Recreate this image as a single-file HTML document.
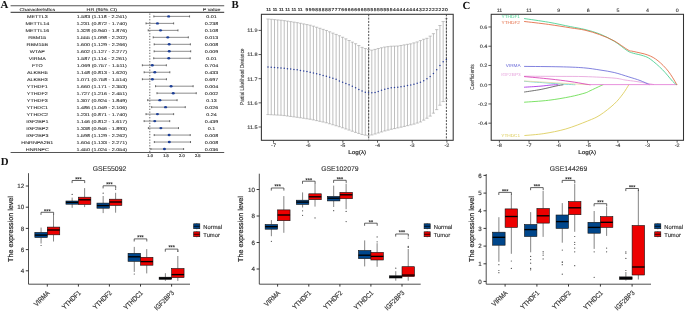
<!DOCTYPE html>
<html><head><meta charset="utf-8"><style>
html,body{margin:0;padding:0;background:#fff;width:685px;height:312px;overflow:hidden}
svg{display:block;will-change:transform}
text{font-family:"Liberation Sans", sans-serif;text-rendering:geometricPrecision}
.b{stroke:#333;stroke-width:0.22}
</style></head><body>
<svg width="685" height="312" viewBox="0 0 685 312">
<rect width="685" height="312" fill="#fff"/>
<text x="0.6" y="8.3" font-size="10.8" style='font-family:"Liberation Serif", serif' font-weight="bold" fill="#111">A</text>
<text x="231.4" y="8.3" font-size="10.8" style='font-family:"Liberation Serif", serif' font-weight="bold" fill="#111">B</text>
<text x="462.6" y="8.6" font-size="10.8" style='font-family:"Liberation Serif", serif' font-weight="bold" fill="#111">C</text>
<text x="0.8" y="164.8" font-size="10.8" style='font-family:"Liberation Serif", serif' font-weight="bold" fill="#111">D</text>
<line x1="10.6" y1="5.8" x2="224.2" y2="5.8" stroke="#555" stroke-width="1.1" />
<line x1="10.6" y1="12.4" x2="224.2" y2="12.4" stroke="#555" stroke-width="1.1" />
<line x1="10.6" y1="152.5" x2="224.2" y2="152.5" stroke="#555" stroke-width="1.1" />
<text x="0" y="0" transform="translate(37.3,11.1) scale(1.08,0.82)" font-size="5" text-anchor="middle" fill="#222" stroke="#222" stroke-width="0.08" font-weight="normal" >Characteristics</text>
<text x="0" y="0" transform="translate(101.8,11.1) scale(1.08,0.82)" font-size="5" text-anchor="middle" fill="#222" stroke="#222" stroke-width="0.08" font-weight="normal" >HR (95% CI)</text>
<text x="0" y="0" transform="translate(211.6,11.1) scale(1.08,0.82)" font-size="5" text-anchor="middle" fill="#222" stroke="#222" stroke-width="0.08" font-weight="normal" >P value</text>
<line x1="149.8" y1="13.5" x2="149.8" y2="152.5" stroke="#444" stroke-width="0.8" stroke-dasharray="1.3,1.5"/>
<text x="0" y="0" transform="translate(37.3,18) scale(1.08,0.82)" font-size="5" text-anchor="middle" fill="#222" stroke="#222" stroke-width="0.08" font-weight="normal" >METTL3</text>
<text x="0" y="0" transform="translate(101.8,18) scale(1.08,0.82)" font-size="5" text-anchor="middle" fill="#222" stroke="#222" stroke-width="0.08" font-weight="normal" >1.583 (1.118 - 2.241)</text>
<text x="0" y="0" transform="translate(211.6,18) scale(1.08,0.82)" font-size="5" text-anchor="middle" fill="#222" stroke="#222" stroke-width="0.08" font-weight="normal" >0.01</text>
<line x1="153.85" y1="16.4" x2="189.56" y2="16.4" stroke="#808080" stroke-width="0.9" />
<line x1="153.85" y1="15.4" x2="153.85" y2="17.4" stroke="#333" stroke-width="0.7" />
<line x1="189.56" y1="15.4" x2="189.56" y2="17.4" stroke="#333" stroke-width="0.7" />
<ellipse cx="168.64" cy="16.4" rx="1.5" ry="1.2" fill="#1d3f96"/>
<text x="0" y="0" transform="translate(37.3,24.98) scale(1.08,0.82)" font-size="5" text-anchor="middle" fill="#222" stroke="#222" stroke-width="0.08" font-weight="normal" >METTL14</text>
<text x="0" y="0" transform="translate(101.8,24.98) scale(1.08,0.82)" font-size="5" text-anchor="middle" fill="#222" stroke="#222" stroke-width="0.08" font-weight="normal" >1.231 (0.872 - 1.740)</text>
<text x="0" y="0" transform="translate(211.6,24.98) scale(1.08,0.82)" font-size="5" text-anchor="middle" fill="#222" stroke="#222" stroke-width="0.08" font-weight="normal" >0.238</text>
<line x1="146.03" y1="23.38" x2="173.63" y2="23.38" stroke="#808080" stroke-width="0.9" />
<line x1="146.03" y1="22.38" x2="146.03" y2="24.38" stroke="#333" stroke-width="0.7" />
<line x1="173.63" y1="22.38" x2="173.63" y2="24.38" stroke="#333" stroke-width="0.7" />
<ellipse cx="157.45" cy="23.38" rx="1.5" ry="1.2" fill="#1d3f96"/>
<text x="0" y="0" transform="translate(37.3,31.96) scale(1.08,0.82)" font-size="5" text-anchor="middle" fill="#222" stroke="#222" stroke-width="0.08" font-weight="normal" >METTL16</text>
<text x="0" y="0" transform="translate(101.8,31.96) scale(1.08,0.82)" font-size="5" text-anchor="middle" fill="#222" stroke="#222" stroke-width="0.08" font-weight="normal" >1.328 (0.940 - 1.876)</text>
<text x="0" y="0" transform="translate(211.6,31.96) scale(1.08,0.82)" font-size="5" text-anchor="middle" fill="#222" stroke="#222" stroke-width="0.08" font-weight="normal" >0.108</text>
<line x1="148.19" y1="30.36" x2="177.96" y2="30.36" stroke="#808080" stroke-width="0.9" />
<line x1="148.19" y1="29.36" x2="148.19" y2="31.36" stroke="#333" stroke-width="0.7" />
<line x1="177.96" y1="29.36" x2="177.96" y2="31.36" stroke="#333" stroke-width="0.7" />
<ellipse cx="160.53" cy="30.36" rx="1.5" ry="1.2" fill="#1d3f96"/>
<text x="0" y="0" transform="translate(37.3,38.94) scale(1.08,0.82)" font-size="5" text-anchor="middle" fill="#222" stroke="#222" stroke-width="0.08" font-weight="normal" >RBM15</text>
<text x="0" y="0" transform="translate(101.8,38.94) scale(1.08,0.82)" font-size="5" text-anchor="middle" fill="#222" stroke="#222" stroke-width="0.08" font-weight="normal" >1.555 (1.098 - 2.202)</text>
<text x="0" y="0" transform="translate(211.6,38.94) scale(1.08,0.82)" font-size="5" text-anchor="middle" fill="#222" stroke="#222" stroke-width="0.08" font-weight="normal" >0.013</text>
<line x1="153.22" y1="37.34" x2="188.32" y2="37.34" stroke="#808080" stroke-width="0.9" />
<line x1="153.22" y1="36.34" x2="153.22" y2="38.34" stroke="#333" stroke-width="0.7" />
<line x1="188.32" y1="36.34" x2="188.32" y2="38.34" stroke="#333" stroke-width="0.7" />
<ellipse cx="167.75" cy="37.34" rx="1.5" ry="1.2" fill="#1d3f96"/>
<text x="0" y="0" transform="translate(37.3,45.92) scale(1.08,0.82)" font-size="5" text-anchor="middle" fill="#222" stroke="#222" stroke-width="0.08" font-weight="normal" >RBM15B</text>
<text x="0" y="0" transform="translate(101.8,45.92) scale(1.08,0.82)" font-size="5" text-anchor="middle" fill="#222" stroke="#222" stroke-width="0.08" font-weight="normal" >1.600 (1.129 - 2.266)</text>
<text x="0" y="0" transform="translate(211.6,45.92) scale(1.08,0.82)" font-size="5" text-anchor="middle" fill="#222" stroke="#222" stroke-width="0.08" font-weight="normal" >0.008</text>
<line x1="154.2" y1="44.32" x2="190.36" y2="44.32" stroke="#808080" stroke-width="0.9" />
<line x1="154.2" y1="43.32" x2="154.2" y2="45.32" stroke="#333" stroke-width="0.7" />
<line x1="190.36" y1="43.32" x2="190.36" y2="45.32" stroke="#333" stroke-width="0.7" />
<ellipse cx="169.18" cy="44.32" rx="1.5" ry="1.2" fill="#1d3f96"/>
<text x="0" y="0" transform="translate(37.3,52.9) scale(1.08,0.82)" font-size="5" text-anchor="middle" fill="#222" stroke="#222" stroke-width="0.08" font-weight="normal" >WTAP</text>
<text x="0" y="0" transform="translate(101.8,52.9) scale(1.08,0.82)" font-size="5" text-anchor="middle" fill="#222" stroke="#222" stroke-width="0.08" font-weight="normal" >1.602 (1.127 - 2.277)</text>
<text x="0" y="0" transform="translate(211.6,52.9) scale(1.08,0.82)" font-size="5" text-anchor="middle" fill="#222" stroke="#222" stroke-width="0.08" font-weight="normal" >0.009</text>
<line x1="154.14" y1="51.3" x2="190.71" y2="51.3" stroke="#808080" stroke-width="0.9" />
<line x1="154.14" y1="50.3" x2="154.14" y2="52.3" stroke="#333" stroke-width="0.7" />
<line x1="190.71" y1="50.3" x2="190.71" y2="52.3" stroke="#333" stroke-width="0.7" />
<ellipse cx="169.24" cy="51.3" rx="1.5" ry="1.2" fill="#1d3f96"/>
<text x="0" y="0" transform="translate(37.3,59.88) scale(1.08,0.82)" font-size="5" text-anchor="middle" fill="#222" stroke="#222" stroke-width="0.08" font-weight="normal" >VIRMA</text>
<text x="0" y="0" transform="translate(101.8,59.88) scale(1.08,0.82)" font-size="5" text-anchor="middle" fill="#222" stroke="#222" stroke-width="0.08" font-weight="normal" >1.587 (1.114 - 2.261)</text>
<text x="0" y="0" transform="translate(211.6,59.88) scale(1.08,0.82)" font-size="5" text-anchor="middle" fill="#222" stroke="#222" stroke-width="0.08" font-weight="normal" >0.01</text>
<line x1="153.73" y1="58.28" x2="190.2" y2="58.28" stroke="#808080" stroke-width="0.9" />
<line x1="153.73" y1="57.28" x2="153.73" y2="59.28" stroke="#333" stroke-width="0.7" />
<line x1="190.2" y1="57.28" x2="190.2" y2="59.28" stroke="#333" stroke-width="0.7" />
<ellipse cx="168.77" cy="58.28" rx="1.5" ry="1.2" fill="#1d3f96"/>
<text x="0" y="0" transform="translate(37.3,66.86) scale(1.08,0.82)" font-size="5" text-anchor="middle" fill="#222" stroke="#222" stroke-width="0.08" font-weight="normal" >FTO</text>
<text x="0" y="0" transform="translate(101.8,66.86) scale(1.08,0.82)" font-size="5" text-anchor="middle" fill="#222" stroke="#222" stroke-width="0.08" font-weight="normal" >1.069 (0.757 - 1.511)</text>
<text x="0" y="0" transform="translate(211.6,66.86) scale(1.08,0.82)" font-size="5" text-anchor="middle" fill="#222" stroke="#222" stroke-width="0.08" font-weight="normal" >0.704</text>
<line x1="142.37" y1="65.26" x2="166.35" y2="65.26" stroke="#808080" stroke-width="0.9" />
<line x1="142.37" y1="64.26" x2="142.37" y2="66.26" stroke="#333" stroke-width="0.7" />
<line x1="166.35" y1="64.26" x2="166.35" y2="66.26" stroke="#333" stroke-width="0.7" />
<ellipse cx="152.29" cy="65.26" rx="1.5" ry="1.2" fill="#1d3f96"/>
<text x="0" y="0" transform="translate(37.3,73.84) scale(1.08,0.82)" font-size="5" text-anchor="middle" fill="#222" stroke="#222" stroke-width="0.08" font-weight="normal" >ALKBH5</text>
<text x="0" y="0" transform="translate(101.8,73.84) scale(1.08,0.82)" font-size="5" text-anchor="middle" fill="#222" stroke="#222" stroke-width="0.08" font-weight="normal" >1.148 (0.813 - 1.620)</text>
<text x="0" y="0" transform="translate(211.6,73.84) scale(1.08,0.82)" font-size="5" text-anchor="middle" fill="#222" stroke="#222" stroke-width="0.08" font-weight="normal" >0.433</text>
<line x1="144.15" y1="72.24" x2="169.82" y2="72.24" stroke="#808080" stroke-width="0.9" />
<line x1="144.15" y1="71.24" x2="144.15" y2="73.24" stroke="#333" stroke-width="0.7" />
<line x1="169.82" y1="71.24" x2="169.82" y2="73.24" stroke="#333" stroke-width="0.7" />
<ellipse cx="154.81" cy="72.24" rx="1.5" ry="1.2" fill="#1d3f96"/>
<text x="0" y="0" transform="translate(37.3,80.82) scale(1.08,0.82)" font-size="5" text-anchor="middle" fill="#222" stroke="#222" stroke-width="0.08" font-weight="normal" >ALKBH3</text>
<text x="0" y="0" transform="translate(101.8,80.82) scale(1.08,0.82)" font-size="5" text-anchor="middle" fill="#222" stroke="#222" stroke-width="0.08" font-weight="normal" >1.071 (0.758 - 1.514)</text>
<text x="0" y="0" transform="translate(211.6,80.82) scale(1.08,0.82)" font-size="5" text-anchor="middle" fill="#222" stroke="#222" stroke-width="0.08" font-weight="normal" >0.697</text>
<line x1="142.4" y1="79.22" x2="166.45" y2="79.22" stroke="#808080" stroke-width="0.9" />
<line x1="142.4" y1="78.22" x2="142.4" y2="80.22" stroke="#333" stroke-width="0.7" />
<line x1="166.45" y1="78.22" x2="166.45" y2="80.22" stroke="#333" stroke-width="0.7" />
<ellipse cx="152.36" cy="79.22" rx="1.5" ry="1.2" fill="#1d3f96"/>
<text x="0" y="0" transform="translate(37.3,87.8) scale(1.08,0.82)" font-size="5" text-anchor="middle" fill="#222" stroke="#222" stroke-width="0.08" font-weight="normal" >YTHDF1</text>
<text x="0" y="0" transform="translate(101.8,87.8) scale(1.08,0.82)" font-size="5" text-anchor="middle" fill="#222" stroke="#222" stroke-width="0.08" font-weight="normal" >1.660 (1.171 - 2.353)</text>
<text x="0" y="0" transform="translate(211.6,87.8) scale(1.08,0.82)" font-size="5" text-anchor="middle" fill="#222" stroke="#222" stroke-width="0.08" font-weight="normal" >0.004</text>
<line x1="155.54" y1="86.2" x2="193.13" y2="86.2" stroke="#808080" stroke-width="0.9" />
<line x1="155.54" y1="85.2" x2="155.54" y2="87.2" stroke="#333" stroke-width="0.7" />
<line x1="193.13" y1="85.2" x2="193.13" y2="87.2" stroke="#333" stroke-width="0.7" />
<ellipse cx="171.09" cy="86.2" rx="1.5" ry="1.2" fill="#1d3f96"/>
<text x="0" y="0" transform="translate(37.3,94.78) scale(1.08,0.82)" font-size="5" text-anchor="middle" fill="#222" stroke="#222" stroke-width="0.08" font-weight="normal" >YTHDF2</text>
<text x="0" y="0" transform="translate(101.8,94.78) scale(1.08,0.82)" font-size="5" text-anchor="middle" fill="#222" stroke="#222" stroke-width="0.08" font-weight="normal" >1.727 (1.216 - 2.451)</text>
<text x="0" y="0" transform="translate(211.6,94.78) scale(1.08,0.82)" font-size="5" text-anchor="middle" fill="#222" stroke="#222" stroke-width="0.08" font-weight="normal" >0.002</text>
<line x1="156.97" y1="93.18" x2="196.24" y2="93.18" stroke="#808080" stroke-width="0.9" />
<line x1="156.97" y1="92.18" x2="156.97" y2="94.18" stroke="#333" stroke-width="0.7" />
<line x1="196.24" y1="92.18" x2="196.24" y2="94.18" stroke="#333" stroke-width="0.7" />
<ellipse cx="173.22" cy="93.18" rx="1.5" ry="1.2" fill="#1d3f96"/>
<text x="0" y="0" transform="translate(37.3,101.76) scale(1.08,0.82)" font-size="5" text-anchor="middle" fill="#222" stroke="#222" stroke-width="0.08" font-weight="normal" >YTHDF3</text>
<text x="0" y="0" transform="translate(101.8,101.76) scale(1.08,0.82)" font-size="5" text-anchor="middle" fill="#222" stroke="#222" stroke-width="0.08" font-weight="normal" >1.307 (0.924 - 1.849)</text>
<text x="0" y="0" transform="translate(211.6,101.76) scale(1.08,0.82)" font-size="5" text-anchor="middle" fill="#222" stroke="#222" stroke-width="0.08" font-weight="normal" >0.13</text>
<line x1="147.68" y1="100.16" x2="177.1" y2="100.16" stroke="#808080" stroke-width="0.9" />
<line x1="147.68" y1="99.16" x2="147.68" y2="101.16" stroke="#333" stroke-width="0.7" />
<line x1="177.1" y1="99.16" x2="177.1" y2="101.16" stroke="#333" stroke-width="0.7" />
<ellipse cx="159.86" cy="100.16" rx="1.5" ry="1.2" fill="#1d3f96"/>
<text x="0" y="0" transform="translate(37.3,108.74) scale(1.08,0.82)" font-size="5" text-anchor="middle" fill="#222" stroke="#222" stroke-width="0.08" font-weight="normal" >YTHDC1</text>
<text x="0" y="0" transform="translate(101.8,108.74) scale(1.08,0.82)" font-size="5" text-anchor="middle" fill="#222" stroke="#222" stroke-width="0.08" font-weight="normal" >1.486 (1.049 - 2.106)</text>
<text x="0" y="0" transform="translate(211.6,108.74) scale(1.08,0.82)" font-size="5" text-anchor="middle" fill="#222" stroke="#222" stroke-width="0.08" font-weight="normal" >0.026</text>
<line x1="151.66" y1="107.14" x2="185.27" y2="107.14" stroke="#808080" stroke-width="0.9" />
<line x1="151.66" y1="106.14" x2="151.66" y2="108.14" stroke="#333" stroke-width="0.7" />
<line x1="185.27" y1="106.14" x2="185.27" y2="108.14" stroke="#333" stroke-width="0.7" />
<ellipse cx="165.55" cy="107.14" rx="1.5" ry="1.2" fill="#1d3f96"/>
<text x="0" y="0" transform="translate(37.3,115.72) scale(1.08,0.82)" font-size="5" text-anchor="middle" fill="#222" stroke="#222" stroke-width="0.08" font-weight="normal" >YTHDC2</text>
<text x="0" y="0" transform="translate(101.8,115.72) scale(1.08,0.82)" font-size="5" text-anchor="middle" fill="#222" stroke="#222" stroke-width="0.08" font-weight="normal" >1.231 (0.871 - 1.740)</text>
<text x="0" y="0" transform="translate(211.6,115.72) scale(1.08,0.82)" font-size="5" text-anchor="middle" fill="#222" stroke="#222" stroke-width="0.08" font-weight="normal" >0.24</text>
<line x1="146" y1="114.12" x2="173.63" y2="114.12" stroke="#808080" stroke-width="0.9" />
<line x1="146" y1="113.12" x2="146" y2="115.12" stroke="#333" stroke-width="0.7" />
<line x1="173.63" y1="113.12" x2="173.63" y2="115.12" stroke="#333" stroke-width="0.7" />
<ellipse cx="157.45" cy="114.12" rx="1.5" ry="1.2" fill="#1d3f96"/>
<text x="0" y="0" transform="translate(37.3,122.7) scale(1.08,0.82)" font-size="5" text-anchor="middle" fill="#222" stroke="#222" stroke-width="0.08" font-weight="normal" >IGF2BP1</text>
<text x="0" y="0" transform="translate(101.8,122.7) scale(1.08,0.82)" font-size="5" text-anchor="middle" fill="#222" stroke="#222" stroke-width="0.08" font-weight="normal" >1.146 (0.812 - 1.617)</text>
<text x="0" y="0" transform="translate(211.6,122.7) scale(1.08,0.82)" font-size="5" text-anchor="middle" fill="#222" stroke="#222" stroke-width="0.08" font-weight="normal" >0.439</text>
<line x1="144.12" y1="121.1" x2="169.72" y2="121.1" stroke="#808080" stroke-width="0.9" />
<line x1="144.12" y1="120.1" x2="144.12" y2="122.1" stroke="#333" stroke-width="0.7" />
<line x1="169.72" y1="120.1" x2="169.72" y2="122.1" stroke="#333" stroke-width="0.7" />
<ellipse cx="154.74" cy="121.1" rx="1.5" ry="1.2" fill="#1d3f96"/>
<text x="0" y="0" transform="translate(37.3,129.68) scale(1.08,0.82)" font-size="5" text-anchor="middle" fill="#222" stroke="#222" stroke-width="0.08" font-weight="normal" >IGF2BP2</text>
<text x="0" y="0" transform="translate(101.8,129.68) scale(1.08,0.82)" font-size="5" text-anchor="middle" fill="#222" stroke="#222" stroke-width="0.08" font-weight="normal" >1.338 (0.946 - 1.893)</text>
<text x="0" y="0" transform="translate(211.6,129.68) scale(1.08,0.82)" font-size="5" text-anchor="middle" fill="#222" stroke="#222" stroke-width="0.08" font-weight="normal" >0.1</text>
<line x1="148.38" y1="128.08" x2="178.5" y2="128.08" stroke="#808080" stroke-width="0.9" />
<line x1="148.38" y1="127.08" x2="148.38" y2="129.08" stroke="#333" stroke-width="0.7" />
<line x1="178.5" y1="127.08" x2="178.5" y2="129.08" stroke="#333" stroke-width="0.7" />
<ellipse cx="160.85" cy="128.08" rx="1.5" ry="1.2" fill="#1d3f96"/>
<text x="0" y="0" transform="translate(37.3,136.66) scale(1.08,0.82)" font-size="5" text-anchor="middle" fill="#222" stroke="#222" stroke-width="0.08" font-weight="normal" >IGF2BP3</text>
<text x="0" y="0" transform="translate(101.8,136.66) scale(1.08,0.82)" font-size="5" text-anchor="middle" fill="#222" stroke="#222" stroke-width="0.08" font-weight="normal" >1.598 (1.129 - 2.262)</text>
<text x="0" y="0" transform="translate(211.6,136.66) scale(1.08,0.82)" font-size="5" text-anchor="middle" fill="#222" stroke="#222" stroke-width="0.08" font-weight="normal" >0.008</text>
<line x1="154.2" y1="135.06" x2="190.23" y2="135.06" stroke="#808080" stroke-width="0.9" />
<line x1="154.2" y1="134.06" x2="154.2" y2="136.06" stroke="#333" stroke-width="0.7" />
<line x1="190.23" y1="134.06" x2="190.23" y2="136.06" stroke="#333" stroke-width="0.7" />
<ellipse cx="169.12" cy="135.06" rx="1.5" ry="1.2" fill="#1d3f96"/>
<text x="0" y="0" transform="translate(37.3,143.64) scale(1.08,0.82)" font-size="5" text-anchor="middle" fill="#222" stroke="#222" stroke-width="0.08" font-weight="normal" >HNRNPA2B1</text>
<text x="0" y="0" transform="translate(101.8,143.64) scale(1.08,0.82)" font-size="5" text-anchor="middle" fill="#222" stroke="#222" stroke-width="0.08" font-weight="normal" >1.604 (1.133 - 2.271)</text>
<text x="0" y="0" transform="translate(211.6,143.64) scale(1.08,0.82)" font-size="5" text-anchor="middle" fill="#222" stroke="#222" stroke-width="0.08" font-weight="normal" >0.008</text>
<line x1="154.33" y1="142.04" x2="190.52" y2="142.04" stroke="#808080" stroke-width="0.9" />
<line x1="154.33" y1="141.04" x2="154.33" y2="143.04" stroke="#333" stroke-width="0.7" />
<line x1="190.52" y1="141.04" x2="190.52" y2="143.04" stroke="#333" stroke-width="0.7" />
<ellipse cx="169.31" cy="142.04" rx="1.5" ry="1.2" fill="#1d3f96"/>
<text x="0" y="0" transform="translate(37.3,150.62) scale(1.08,0.82)" font-size="5" text-anchor="middle" fill="#222" stroke="#222" stroke-width="0.08" font-weight="normal" >HNRNPC</text>
<text x="0" y="0" transform="translate(101.8,150.62) scale(1.08,0.82)" font-size="5" text-anchor="middle" fill="#222" stroke="#222" stroke-width="0.08" font-weight="normal" >1.450 (1.024 - 2.054)</text>
<text x="0" y="0" transform="translate(211.6,150.62) scale(1.08,0.82)" font-size="5" text-anchor="middle" fill="#222" stroke="#222" stroke-width="0.08" font-weight="normal" >0.036</text>
<line x1="150.86" y1="149.02" x2="183.62" y2="149.02" stroke="#808080" stroke-width="0.9" />
<line x1="150.86" y1="148.02" x2="150.86" y2="150.02" stroke="#333" stroke-width="0.7" />
<line x1="183.62" y1="148.02" x2="183.62" y2="150.02" stroke="#333" stroke-width="0.7" />
<ellipse cx="164.41" cy="149.02" rx="1.5" ry="1.2" fill="#1d3f96"/>
<line x1="150.1" y1="152.5" x2="150.1" y2="153.6" stroke="#444" stroke-width="0.6" />
<text x="0" y="0" transform="translate(150.1,157)" font-size="4" text-anchor="middle" fill="#333" stroke="#333" stroke-width="0.2" font-weight="normal" >1.0</text>
<line x1="166" y1="152.5" x2="166" y2="153.6" stroke="#444" stroke-width="0.6" />
<text x="0" y="0" transform="translate(166,157)" font-size="4" text-anchor="middle" fill="#333" stroke="#333" stroke-width="0.2" font-weight="normal" >1.5</text>
<line x1="181.9" y1="152.5" x2="181.9" y2="153.6" stroke="#444" stroke-width="0.6" />
<text x="0" y="0" transform="translate(181.9,157)" font-size="4" text-anchor="middle" fill="#333" stroke="#333" stroke-width="0.2" font-weight="normal" >2.0</text>
<line x1="197.8" y1="152.5" x2="197.8" y2="153.6" stroke="#444" stroke-width="0.6" />
<text x="0" y="0" transform="translate(197.8,157)" font-size="4" text-anchor="middle" fill="#333" stroke="#333" stroke-width="0.2" font-weight="normal" >2.5</text>
<line x1="268" y1="19" x2="268" y2="114.6" stroke="#949494" stroke-width="0.6" />
<line x1="266.4" y1="19" x2="269.6" y2="19" stroke="#a0a0a0" stroke-width="0.6" />
<line x1="266.4" y1="114.6" x2="269.6" y2="114.6" stroke="#a0a0a0" stroke-width="0.6" />
<line x1="271.24" y1="19.3" x2="271.24" y2="114.76" stroke="#949494" stroke-width="0.6" />
<line x1="269.64" y1="19.3" x2="272.84" y2="19.3" stroke="#a0a0a0" stroke-width="0.6" />
<line x1="269.64" y1="114.76" x2="272.84" y2="114.76" stroke="#a0a0a0" stroke-width="0.6" />
<line x1="274.49" y1="19.61" x2="274.49" y2="114.93" stroke="#949494" stroke-width="0.6" />
<line x1="272.89" y1="19.61" x2="276.09" y2="19.61" stroke="#a0a0a0" stroke-width="0.6" />
<line x1="272.89" y1="114.93" x2="276.09" y2="114.93" stroke="#a0a0a0" stroke-width="0.6" />
<line x1="277.73" y1="19.91" x2="277.73" y2="115.09" stroke="#949494" stroke-width="0.6" />
<line x1="276.13" y1="19.91" x2="279.33" y2="19.91" stroke="#a0a0a0" stroke-width="0.6" />
<line x1="276.13" y1="115.09" x2="279.33" y2="115.09" stroke="#a0a0a0" stroke-width="0.6" />
<line x1="280.97" y1="20.21" x2="280.97" y2="115.25" stroke="#949494" stroke-width="0.6" />
<line x1="279.37" y1="20.21" x2="282.57" y2="20.21" stroke="#a0a0a0" stroke-width="0.6" />
<line x1="279.37" y1="115.25" x2="282.57" y2="115.25" stroke="#a0a0a0" stroke-width="0.6" />
<line x1="284.22" y1="20.65" x2="284.22" y2="115.6" stroke="#949494" stroke-width="0.6" />
<line x1="282.62" y1="20.65" x2="285.82" y2="20.65" stroke="#a0a0a0" stroke-width="0.6" />
<line x1="282.62" y1="115.6" x2="285.82" y2="115.6" stroke="#a0a0a0" stroke-width="0.6" />
<line x1="287.46" y1="21.14" x2="287.46" y2="116.02" stroke="#949494" stroke-width="0.6" />
<line x1="285.86" y1="21.14" x2="289.06" y2="21.14" stroke="#a0a0a0" stroke-width="0.6" />
<line x1="285.86" y1="116.02" x2="289.06" y2="116.02" stroke="#a0a0a0" stroke-width="0.6" />
<line x1="290.71" y1="21.63" x2="290.71" y2="116.45" stroke="#949494" stroke-width="0.6" />
<line x1="289.11" y1="21.63" x2="292.31" y2="21.63" stroke="#a0a0a0" stroke-width="0.6" />
<line x1="289.11" y1="116.45" x2="292.31" y2="116.45" stroke="#a0a0a0" stroke-width="0.6" />
<line x1="293.95" y1="22.12" x2="293.95" y2="116.87" stroke="#949494" stroke-width="0.6" />
<line x1="292.35" y1="22.12" x2="295.55" y2="22.12" stroke="#a0a0a0" stroke-width="0.6" />
<line x1="292.35" y1="116.87" x2="295.55" y2="116.87" stroke="#a0a0a0" stroke-width="0.6" />
<line x1="297.19" y1="22.64" x2="297.19" y2="117.3" stroke="#949494" stroke-width="0.6" />
<line x1="295.59" y1="22.64" x2="298.79" y2="22.64" stroke="#a0a0a0" stroke-width="0.6" />
<line x1="295.59" y1="117.3" x2="298.79" y2="117.3" stroke="#a0a0a0" stroke-width="0.6" />
<line x1="300.44" y1="23.28" x2="300.44" y2="117.79" stroke="#949494" stroke-width="0.6" />
<line x1="298.84" y1="23.28" x2="302.04" y2="23.28" stroke="#a0a0a0" stroke-width="0.6" />
<line x1="298.84" y1="117.79" x2="302.04" y2="117.79" stroke="#a0a0a0" stroke-width="0.6" />
<line x1="303.68" y1="23.93" x2="303.68" y2="118.28" stroke="#949494" stroke-width="0.6" />
<line x1="302.08" y1="23.93" x2="305.28" y2="23.93" stroke="#a0a0a0" stroke-width="0.6" />
<line x1="302.08" y1="118.28" x2="305.28" y2="118.28" stroke="#a0a0a0" stroke-width="0.6" />
<line x1="306.92" y1="24.57" x2="306.92" y2="118.77" stroke="#949494" stroke-width="0.6" />
<line x1="305.32" y1="24.57" x2="308.52" y2="24.57" stroke="#a0a0a0" stroke-width="0.6" />
<line x1="305.32" y1="118.77" x2="308.52" y2="118.77" stroke="#a0a0a0" stroke-width="0.6" />
<line x1="310.17" y1="25.21" x2="310.17" y2="119.26" stroke="#949494" stroke-width="0.6" />
<line x1="308.57" y1="25.21" x2="311.77" y2="25.21" stroke="#a0a0a0" stroke-width="0.6" />
<line x1="308.57" y1="119.26" x2="311.77" y2="119.26" stroke="#a0a0a0" stroke-width="0.6" />
<line x1="313.41" y1="26.16" x2="313.41" y2="119.91" stroke="#949494" stroke-width="0.6" />
<line x1="311.81" y1="26.16" x2="315.01" y2="26.16" stroke="#a0a0a0" stroke-width="0.6" />
<line x1="311.81" y1="119.91" x2="315.01" y2="119.91" stroke="#a0a0a0" stroke-width="0.6" />
<line x1="316.65" y1="27.23" x2="316.65" y2="120.62" stroke="#949494" stroke-width="0.6" />
<line x1="315.05" y1="27.23" x2="318.25" y2="27.23" stroke="#a0a0a0" stroke-width="0.6" />
<line x1="315.05" y1="120.62" x2="318.25" y2="120.62" stroke="#a0a0a0" stroke-width="0.6" />
<line x1="319.9" y1="28.29" x2="319.9" y2="121.33" stroke="#949494" stroke-width="0.6" />
<line x1="318.3" y1="28.29" x2="321.5" y2="28.29" stroke="#a0a0a0" stroke-width="0.6" />
<line x1="318.3" y1="121.33" x2="321.5" y2="121.33" stroke="#a0a0a0" stroke-width="0.6" />
<line x1="323.14" y1="29.36" x2="323.14" y2="122.04" stroke="#949494" stroke-width="0.6" />
<line x1="321.54" y1="29.36" x2="324.74" y2="29.36" stroke="#a0a0a0" stroke-width="0.6" />
<line x1="321.54" y1="122.04" x2="324.74" y2="122.04" stroke="#a0a0a0" stroke-width="0.6" />
<line x1="326.39" y1="30.48" x2="326.39" y2="122.81" stroke="#949494" stroke-width="0.6" />
<line x1="324.79" y1="30.48" x2="327.99" y2="30.48" stroke="#a0a0a0" stroke-width="0.6" />
<line x1="324.79" y1="122.81" x2="327.99" y2="122.81" stroke="#a0a0a0" stroke-width="0.6" />
<line x1="329.63" y1="31.79" x2="329.63" y2="123.78" stroke="#949494" stroke-width="0.6" />
<line x1="328.03" y1="31.79" x2="331.23" y2="31.79" stroke="#a0a0a0" stroke-width="0.6" />
<line x1="328.03" y1="123.78" x2="331.23" y2="123.78" stroke="#a0a0a0" stroke-width="0.6" />
<line x1="332.87" y1="33.1" x2="332.87" y2="124.76" stroke="#949494" stroke-width="0.6" />
<line x1="331.27" y1="33.1" x2="334.47" y2="33.1" stroke="#a0a0a0" stroke-width="0.6" />
<line x1="331.27" y1="124.76" x2="334.47" y2="124.76" stroke="#a0a0a0" stroke-width="0.6" />
<line x1="336.12" y1="34.41" x2="336.12" y2="125.74" stroke="#949494" stroke-width="0.6" />
<line x1="334.52" y1="34.41" x2="337.72" y2="34.41" stroke="#a0a0a0" stroke-width="0.6" />
<line x1="334.52" y1="125.74" x2="337.72" y2="125.74" stroke="#a0a0a0" stroke-width="0.6" />
<line x1="339.36" y1="35.72" x2="339.36" y2="126.72" stroke="#949494" stroke-width="0.6" />
<line x1="337.76" y1="35.72" x2="340.96" y2="35.72" stroke="#a0a0a0" stroke-width="0.6" />
<line x1="337.76" y1="126.72" x2="340.96" y2="126.72" stroke="#a0a0a0" stroke-width="0.6" />
<line x1="342.6" y1="37.25" x2="342.6" y2="127.81" stroke="#949494" stroke-width="0.6" />
<line x1="341" y1="37.25" x2="344.2" y2="37.25" stroke="#a0a0a0" stroke-width="0.6" />
<line x1="341" y1="127.81" x2="344.2" y2="127.81" stroke="#a0a0a0" stroke-width="0.6" />
<line x1="345.85" y1="38.87" x2="345.85" y2="128.95" stroke="#949494" stroke-width="0.6" />
<line x1="344.25" y1="38.87" x2="347.45" y2="38.87" stroke="#a0a0a0" stroke-width="0.6" />
<line x1="344.25" y1="128.95" x2="347.45" y2="128.95" stroke="#a0a0a0" stroke-width="0.6" />
<line x1="349.09" y1="40.5" x2="349.09" y2="130.08" stroke="#949494" stroke-width="0.6" />
<line x1="347.49" y1="40.5" x2="350.69" y2="40.5" stroke="#a0a0a0" stroke-width="0.6" />
<line x1="347.49" y1="130.08" x2="350.69" y2="130.08" stroke="#a0a0a0" stroke-width="0.6" />
<line x1="352.33" y1="42.12" x2="352.33" y2="131.22" stroke="#949494" stroke-width="0.6" />
<line x1="350.73" y1="42.12" x2="353.93" y2="42.12" stroke="#a0a0a0" stroke-width="0.6" />
<line x1="350.73" y1="131.22" x2="353.93" y2="131.22" stroke="#a0a0a0" stroke-width="0.6" />
<line x1="355.58" y1="43.74" x2="355.58" y2="132.36" stroke="#949494" stroke-width="0.6" />
<line x1="353.98" y1="43.74" x2="357.18" y2="43.74" stroke="#a0a0a0" stroke-width="0.6" />
<line x1="353.98" y1="132.36" x2="357.18" y2="132.36" stroke="#a0a0a0" stroke-width="0.6" />
<line x1="358.82" y1="45.55" x2="358.82" y2="133.44" stroke="#949494" stroke-width="0.6" />
<line x1="357.22" y1="45.55" x2="360.42" y2="45.55" stroke="#a0a0a0" stroke-width="0.6" />
<line x1="357.22" y1="133.44" x2="360.42" y2="133.44" stroke="#a0a0a0" stroke-width="0.6" />
<line x1="362.07" y1="47.37" x2="362.07" y2="134.52" stroke="#949494" stroke-width="0.6" />
<line x1="360.47" y1="47.37" x2="363.67" y2="47.37" stroke="#a0a0a0" stroke-width="0.6" />
<line x1="360.47" y1="134.52" x2="363.67" y2="134.52" stroke="#a0a0a0" stroke-width="0.6" />
<line x1="365.31" y1="48.5" x2="365.31" y2="135.15" stroke="#949494" stroke-width="0.6" />
<line x1="363.71" y1="48.5" x2="366.91" y2="48.5" stroke="#a0a0a0" stroke-width="0.6" />
<line x1="363.71" y1="135.15" x2="366.91" y2="135.15" stroke="#a0a0a0" stroke-width="0.6" />
<line x1="368.55" y1="49.58" x2="368.55" y2="135.74" stroke="#949494" stroke-width="0.6" />
<line x1="366.95" y1="49.58" x2="370.15" y2="49.58" stroke="#a0a0a0" stroke-width="0.6" />
<line x1="366.95" y1="135.74" x2="370.15" y2="135.74" stroke="#a0a0a0" stroke-width="0.6" />
<line x1="371.8" y1="50.15" x2="371.8" y2="134.95" stroke="#949494" stroke-width="0.6" />
<line x1="370.2" y1="50.15" x2="373.4" y2="50.15" stroke="#a0a0a0" stroke-width="0.6" />
<line x1="370.2" y1="134.95" x2="373.4" y2="134.95" stroke="#a0a0a0" stroke-width="0.6" />
<line x1="375.04" y1="49.41" x2="375.04" y2="134.01" stroke="#949494" stroke-width="0.6" />
<line x1="373.44" y1="49.41" x2="376.64" y2="49.41" stroke="#a0a0a0" stroke-width="0.6" />
<line x1="373.44" y1="134.01" x2="376.64" y2="134.01" stroke="#a0a0a0" stroke-width="0.6" />
<line x1="378.28" y1="48.53" x2="378.28" y2="132.98" stroke="#949494" stroke-width="0.6" />
<line x1="376.68" y1="48.53" x2="379.88" y2="48.53" stroke="#a0a0a0" stroke-width="0.6" />
<line x1="376.68" y1="132.98" x2="379.88" y2="132.98" stroke="#a0a0a0" stroke-width="0.6" />
<line x1="381.53" y1="47.78" x2="381.53" y2="131.95" stroke="#949494" stroke-width="0.6" />
<line x1="379.93" y1="47.78" x2="383.13" y2="47.78" stroke="#a0a0a0" stroke-width="0.6" />
<line x1="379.93" y1="131.95" x2="383.13" y2="131.95" stroke="#a0a0a0" stroke-width="0.6" />
<line x1="384.77" y1="47.03" x2="384.77" y2="130.95" stroke="#949494" stroke-width="0.6" />
<line x1="383.17" y1="47.03" x2="386.37" y2="47.03" stroke="#a0a0a0" stroke-width="0.6" />
<line x1="383.17" y1="130.95" x2="386.37" y2="130.95" stroke="#a0a0a0" stroke-width="0.6" />
<line x1="388.01" y1="46.62" x2="388.01" y2="130.11" stroke="#949494" stroke-width="0.6" />
<line x1="386.41" y1="46.62" x2="389.61" y2="46.62" stroke="#a0a0a0" stroke-width="0.6" />
<line x1="386.41" y1="130.11" x2="389.61" y2="130.11" stroke="#a0a0a0" stroke-width="0.6" />
<line x1="391.26" y1="46.23" x2="391.26" y2="129.26" stroke="#949494" stroke-width="0.6" />
<line x1="389.66" y1="46.23" x2="392.86" y2="46.23" stroke="#a0a0a0" stroke-width="0.6" />
<line x1="389.66" y1="129.26" x2="392.86" y2="129.26" stroke="#a0a0a0" stroke-width="0.6" />
<line x1="394.5" y1="46.11" x2="394.5" y2="128.58" stroke="#949494" stroke-width="0.6" />
<line x1="392.9" y1="46.11" x2="396.1" y2="46.11" stroke="#a0a0a0" stroke-width="0.6" />
<line x1="392.9" y1="128.58" x2="396.1" y2="128.58" stroke="#a0a0a0" stroke-width="0.6" />
<line x1="397.75" y1="46.01" x2="397.75" y2="127.92" stroke="#949494" stroke-width="0.6" />
<line x1="396.15" y1="46.01" x2="399.35" y2="46.01" stroke="#a0a0a0" stroke-width="0.6" />
<line x1="396.15" y1="127.92" x2="399.35" y2="127.92" stroke="#a0a0a0" stroke-width="0.6" />
<line x1="400.99" y1="45.47" x2="400.99" y2="127.19" stroke="#949494" stroke-width="0.6" />
<line x1="399.39" y1="45.47" x2="402.59" y2="45.47" stroke="#a0a0a0" stroke-width="0.6" />
<line x1="399.39" y1="127.19" x2="402.59" y2="127.19" stroke="#a0a0a0" stroke-width="0.6" />
<line x1="404.23" y1="44.87" x2="404.23" y2="126.43" stroke="#949494" stroke-width="0.6" />
<line x1="402.63" y1="44.87" x2="405.83" y2="44.87" stroke="#a0a0a0" stroke-width="0.6" />
<line x1="402.63" y1="126.43" x2="405.83" y2="126.43" stroke="#a0a0a0" stroke-width="0.6" />
<line x1="407.48" y1="44.34" x2="407.48" y2="125.67" stroke="#949494" stroke-width="0.6" />
<line x1="405.88" y1="44.34" x2="409.08" y2="44.34" stroke="#a0a0a0" stroke-width="0.6" />
<line x1="405.88" y1="125.67" x2="409.08" y2="125.67" stroke="#a0a0a0" stroke-width="0.6" />
<line x1="410.72" y1="43.83" x2="410.72" y2="124.9" stroke="#949494" stroke-width="0.6" />
<line x1="409.12" y1="43.83" x2="412.32" y2="43.83" stroke="#a0a0a0" stroke-width="0.6" />
<line x1="409.12" y1="124.9" x2="412.32" y2="124.9" stroke="#a0a0a0" stroke-width="0.6" />
<line x1="413.96" y1="42.89" x2="413.96" y2="124.13" stroke="#949494" stroke-width="0.6" />
<line x1="412.36" y1="42.89" x2="415.56" y2="42.89" stroke="#a0a0a0" stroke-width="0.6" />
<line x1="412.36" y1="124.13" x2="415.56" y2="124.13" stroke="#a0a0a0" stroke-width="0.6" />
<line x1="417.21" y1="41.93" x2="417.21" y2="123.06" stroke="#949494" stroke-width="0.6" />
<line x1="415.61" y1="41.93" x2="418.81" y2="41.93" stroke="#a0a0a0" stroke-width="0.6" />
<line x1="415.61" y1="123.06" x2="418.81" y2="123.06" stroke="#a0a0a0" stroke-width="0.6" />
<line x1="420.45" y1="40.6" x2="420.45" y2="121.98" stroke="#949494" stroke-width="0.6" />
<line x1="418.85" y1="40.6" x2="422.05" y2="40.6" stroke="#a0a0a0" stroke-width="0.6" />
<line x1="418.85" y1="121.98" x2="422.05" y2="121.98" stroke="#a0a0a0" stroke-width="0.6" />
<line x1="423.69" y1="39.27" x2="423.69" y2="120.14" stroke="#949494" stroke-width="0.6" />
<line x1="422.09" y1="39.27" x2="425.29" y2="39.27" stroke="#a0a0a0" stroke-width="0.6" />
<line x1="422.09" y1="120.14" x2="425.29" y2="120.14" stroke="#a0a0a0" stroke-width="0.6" />
<line x1="426.94" y1="38.32" x2="426.94" y2="118.24" stroke="#949494" stroke-width="0.6" />
<line x1="425.34" y1="38.32" x2="428.54" y2="38.32" stroke="#a0a0a0" stroke-width="0.6" />
<line x1="425.34" y1="118.24" x2="428.54" y2="118.24" stroke="#a0a0a0" stroke-width="0.6" />
<line x1="430.18" y1="36.11" x2="430.18" y2="116.11" stroke="#949494" stroke-width="0.6" />
<line x1="428.58" y1="36.11" x2="431.78" y2="36.11" stroke="#a0a0a0" stroke-width="0.6" />
<line x1="428.58" y1="116.11" x2="431.78" y2="116.11" stroke="#a0a0a0" stroke-width="0.6" />
<line x1="433.43" y1="33.66" x2="433.43" y2="113.17" stroke="#949494" stroke-width="0.6" />
<line x1="431.83" y1="33.66" x2="435.03" y2="33.66" stroke="#a0a0a0" stroke-width="0.6" />
<line x1="431.83" y1="113.17" x2="435.03" y2="113.17" stroke="#a0a0a0" stroke-width="0.6" />
<line x1="436.67" y1="29.66" x2="436.67" y2="109.64" stroke="#949494" stroke-width="0.6" />
<line x1="435.07" y1="29.66" x2="438.27" y2="29.66" stroke="#a0a0a0" stroke-width="0.6" />
<line x1="435.07" y1="109.64" x2="438.27" y2="109.64" stroke="#a0a0a0" stroke-width="0.6" />
<line x1="439.91" y1="25.51" x2="439.91" y2="105.22" stroke="#949494" stroke-width="0.6" />
<line x1="438.31" y1="25.51" x2="441.51" y2="25.51" stroke="#a0a0a0" stroke-width="0.6" />
<line x1="438.31" y1="105.22" x2="441.51" y2="105.22" stroke="#a0a0a0" stroke-width="0.6" />
<line x1="443.16" y1="21.55" x2="443.16" y2="101.55" stroke="#949494" stroke-width="0.6" />
<line x1="441.56" y1="21.55" x2="444.76" y2="21.55" stroke="#a0a0a0" stroke-width="0.6" />
<line x1="441.56" y1="101.55" x2="444.76" y2="101.55" stroke="#a0a0a0" stroke-width="0.6" />
<line x1="446.4" y1="18.6" x2="446.4" y2="99" stroke="#949494" stroke-width="0.6" />
<line x1="444.8" y1="18.6" x2="448" y2="18.6" stroke="#a0a0a0" stroke-width="0.6" />
<line x1="444.8" y1="99" x2="448" y2="99" stroke="#a0a0a0" stroke-width="0.6" />
<circle cx="268" cy="67.1" r="0.75" fill="#2a3f9a"/>
<circle cx="271.24" cy="67.28" r="0.75" fill="#2a3f9a"/>
<circle cx="274.49" cy="67.38" r="0.75" fill="#2a3f9a"/>
<circle cx="277.73" cy="67.66" r="0.75" fill="#2a3f9a"/>
<circle cx="280.97" cy="67.94" r="0.75" fill="#2a3f9a"/>
<circle cx="284.22" cy="68.25" r="0.75" fill="#2a3f9a"/>
<circle cx="287.46" cy="68.63" r="0.75" fill="#2a3f9a"/>
<circle cx="290.71" cy="68.94" r="0.75" fill="#2a3f9a"/>
<circle cx="293.95" cy="69.4" r="0.75" fill="#2a3f9a"/>
<circle cx="297.19" cy="69.83" r="0.75" fill="#2a3f9a"/>
<circle cx="300.44" cy="70.41" r="0.75" fill="#2a3f9a"/>
<circle cx="303.68" cy="71.02" r="0.75" fill="#2a3f9a"/>
<circle cx="306.92" cy="71.53" r="0.75" fill="#2a3f9a"/>
<circle cx="310.17" cy="72.27" r="0.75" fill="#2a3f9a"/>
<circle cx="313.41" cy="72.98" r="0.75" fill="#2a3f9a"/>
<circle cx="316.65" cy="73.68" r="0.75" fill="#2a3f9a"/>
<circle cx="319.9" cy="74.5" r="0.75" fill="#2a3f9a"/>
<circle cx="323.14" cy="75.46" r="0.75" fill="#2a3f9a"/>
<circle cx="326.39" cy="76.36" r="0.75" fill="#2a3f9a"/>
<circle cx="329.63" cy="77.18" r="0.75" fill="#2a3f9a"/>
<circle cx="332.87" cy="78.25" r="0.75" fill="#2a3f9a"/>
<circle cx="336.12" cy="79.31" r="0.75" fill="#2a3f9a"/>
<circle cx="339.36" cy="80.88" r="0.75" fill="#2a3f9a"/>
<circle cx="342.6" cy="82.18" r="0.75" fill="#2a3f9a"/>
<circle cx="345.85" cy="83.5" r="0.75" fill="#2a3f9a"/>
<circle cx="349.09" cy="84.72" r="0.75" fill="#2a3f9a"/>
<circle cx="352.33" cy="86.23" r="0.75" fill="#2a3f9a"/>
<circle cx="355.58" cy="87.66" r="0.75" fill="#2a3f9a"/>
<circle cx="358.82" cy="89.5" r="0.75" fill="#2a3f9a"/>
<circle cx="362.07" cy="91.09" r="0.75" fill="#2a3f9a"/>
<circle cx="365.31" cy="92.33" r="0.75" fill="#2a3f9a"/>
<circle cx="368.55" cy="92.76" r="0.75" fill="#2a3f9a"/>
<circle cx="371.8" cy="92.8" r="0.75" fill="#2a3f9a"/>
<circle cx="375.04" cy="92.41" r="0.75" fill="#2a3f9a"/>
<circle cx="378.28" cy="91.44" r="0.75" fill="#2a3f9a"/>
<circle cx="381.53" cy="90.33" r="0.75" fill="#2a3f9a"/>
<circle cx="384.77" cy="89.34" r="0.75" fill="#2a3f9a"/>
<circle cx="388.01" cy="88.48" r="0.75" fill="#2a3f9a"/>
<circle cx="391.26" cy="87.85" r="0.75" fill="#2a3f9a"/>
<circle cx="394.5" cy="87.61" r="0.75" fill="#2a3f9a"/>
<circle cx="397.75" cy="87.15" r="0.75" fill="#2a3f9a"/>
<circle cx="400.99" cy="86.74" r="0.75" fill="#2a3f9a"/>
<circle cx="404.23" cy="86.17" r="0.75" fill="#2a3f9a"/>
<circle cx="407.48" cy="85.56" r="0.75" fill="#2a3f9a"/>
<circle cx="410.72" cy="84.93" r="0.75" fill="#2a3f9a"/>
<circle cx="413.96" cy="84.23" r="0.75" fill="#2a3f9a"/>
<circle cx="417.21" cy="83.33" r="0.75" fill="#2a3f9a"/>
<circle cx="420.45" cy="82.28" r="0.75" fill="#2a3f9a"/>
<circle cx="423.69" cy="80.8" r="0.75" fill="#2a3f9a"/>
<circle cx="426.94" cy="78.84" r="0.75" fill="#2a3f9a"/>
<circle cx="430.18" cy="76.61" r="0.75" fill="#2a3f9a"/>
<circle cx="433.43" cy="73.57" r="0.75" fill="#2a3f9a"/>
<circle cx="436.67" cy="69.75" r="0.75" fill="#2a3f9a"/>
<circle cx="439.91" cy="65.61" r="0.75" fill="#2a3f9a"/>
<circle cx="443.16" cy="61.65" r="0.75" fill="#2a3f9a"/>
<circle cx="446.4" cy="59.4" r="0.75" fill="#2a3f9a"/>
<line x1="368.7" y1="14.3" x2="368.7" y2="140.3" stroke="#222" stroke-width="0.8" stroke-dasharray="2.0,1.3"/>
<line x1="446.4" y1="14.3" x2="446.4" y2="140.3" stroke="#222" stroke-width="0.8" stroke-dasharray="2.0,1.3"/>
<rect x="261.4" y="14.3" width="191.8" height="126" fill="none" stroke="#333" stroke-width="1.05"/>
<line x1="258.6" y1="127" x2="261.4" y2="127" stroke="#333" stroke-width="0.8" />
<text x="0" y="0" transform="translate(257.6,128.8) scale(1.2,1.1)" font-size="4.6" text-anchor="end" fill="#333" stroke="#333" stroke-width="0.1" font-weight="normal" >11.5</text>
<line x1="258.6" y1="102.85" x2="261.4" y2="102.85" stroke="#333" stroke-width="0.8" />
<text x="0" y="0" transform="translate(257.6,104.65) scale(1.2,1.1)" font-size="4.6" text-anchor="end" fill="#333" stroke="#333" stroke-width="0.1" font-weight="normal" >11.6</text>
<line x1="258.6" y1="78.7" x2="261.4" y2="78.7" stroke="#333" stroke-width="0.8" />
<text x="0" y="0" transform="translate(257.6,80.5) scale(1.2,1.1)" font-size="4.6" text-anchor="end" fill="#333" stroke="#333" stroke-width="0.1" font-weight="normal" >11.7</text>
<line x1="258.6" y1="54.55" x2="261.4" y2="54.55" stroke="#333" stroke-width="0.8" />
<text x="0" y="0" transform="translate(257.6,56.35) scale(1.2,1.1)" font-size="4.6" text-anchor="end" fill="#333" stroke="#333" stroke-width="0.1" font-weight="normal" >11.8</text>
<line x1="258.6" y1="30.4" x2="261.4" y2="30.4" stroke="#333" stroke-width="0.8" />
<text x="0" y="0" transform="translate(257.6,32.2) scale(1.2,1.1)" font-size="4.6" text-anchor="end" fill="#333" stroke="#333" stroke-width="0.1" font-weight="normal" >11.9</text>
<line x1="273.5" y1="140.3" x2="273.5" y2="142.7" stroke="#333" stroke-width="0.8" />
<text x="0" y="0" transform="translate(273.5,147.2) scale(1.2,1.1)" font-size="4.6" text-anchor="middle" fill="#333" stroke="#333" stroke-width="0.1" font-weight="normal" >-7</text>
<line x1="308.18" y1="140.3" x2="308.18" y2="142.7" stroke="#333" stroke-width="0.8" />
<text x="0" y="0" transform="translate(308.18,147.2) scale(1.2,1.1)" font-size="4.6" text-anchor="middle" fill="#333" stroke="#333" stroke-width="0.1" font-weight="normal" >-6</text>
<line x1="342.86" y1="140.3" x2="342.86" y2="142.7" stroke="#333" stroke-width="0.8" />
<text x="0" y="0" transform="translate(342.86,147.2) scale(1.2,1.1)" font-size="4.6" text-anchor="middle" fill="#333" stroke="#333" stroke-width="0.1" font-weight="normal" >-5</text>
<line x1="377.54" y1="140.3" x2="377.54" y2="142.7" stroke="#333" stroke-width="0.8" />
<text x="0" y="0" transform="translate(377.54,147.2) scale(1.2,1.1)" font-size="4.6" text-anchor="middle" fill="#333" stroke="#333" stroke-width="0.1" font-weight="normal" >-4</text>
<line x1="412.22" y1="140.3" x2="412.22" y2="142.7" stroke="#333" stroke-width="0.8" />
<text x="0" y="0" transform="translate(412.22,147.2) scale(1.2,1.1)" font-size="4.6" text-anchor="middle" fill="#333" stroke="#333" stroke-width="0.1" font-weight="normal" >-3</text>
<line x1="446.9" y1="140.3" x2="446.9" y2="142.7" stroke="#333" stroke-width="0.8" />
<text x="0" y="0" transform="translate(446.9,147.2) scale(1.2,1.1)" font-size="4.6" text-anchor="middle" fill="#333" stroke="#333" stroke-width="0.1" font-weight="normal" >-2</text>
<text x="0" y="0" transform="translate(357.2,154.4) scale(1.15,1)" font-size="5.5" text-anchor="middle" fill="#333" stroke="#333" stroke-width="0.2" font-weight="normal" >Log(λ)</text>
<text x="0" y="0" transform="translate(243.5,76.8) rotate(-90) scale(0.9,1.12)" font-size="5.2" text-anchor="middle" fill="#333" stroke="#333" stroke-width="0.08" font-weight="normal" >Partial Likelihood Deviance</text>
<text x="0" y="0" transform="translate(268.75,11.4) scale(1.1,1)" font-size="4.2" text-anchor="middle" fill="#333" stroke="#333" stroke-width="0.2" font-weight="normal" >11</text>
<text x="0" y="0" transform="translate(275.03,11.4) scale(1.1,1)" font-size="4.2" text-anchor="middle" fill="#333" stroke="#333" stroke-width="0.2" font-weight="normal" >11</text>
<text x="0" y="0" transform="translate(281.31,11.4) scale(1.1,1)" font-size="4.2" text-anchor="middle" fill="#333" stroke="#333" stroke-width="0.2" font-weight="normal" >11</text>
<text x="0" y="0" transform="translate(287.59,11.4) scale(1.1,1)" font-size="4.2" text-anchor="middle" fill="#333" stroke="#333" stroke-width="0.2" font-weight="normal" >11</text>
<text x="0" y="0" transform="translate(293.87,11.4) scale(1.1,1)" font-size="4.2" text-anchor="middle" fill="#333" stroke="#333" stroke-width="0.2" font-weight="normal" >11</text>
<text x="0" y="0" transform="translate(300.15,11.4) scale(1.1,1)" font-size="4.2" text-anchor="middle" fill="#333" stroke="#333" stroke-width="0.2" font-weight="normal" >11</text>
<text x="0" y="0" transform="translate(306.9,11.4) scale(1.18,1)" font-size="4.2" text-anchor="middle" fill="#333" stroke="#333" stroke-width="0.2" font-weight="normal" >9</text>
<text x="0" y="0" transform="translate(310.14,11.4) scale(1.18,1)" font-size="4.2" text-anchor="middle" fill="#333" stroke="#333" stroke-width="0.2" font-weight="normal" >9</text>
<text x="0" y="0" transform="translate(313.39,11.4) scale(1.18,1)" font-size="4.2" text-anchor="middle" fill="#333" stroke="#333" stroke-width="0.2" font-weight="normal" >9</text>
<text x="0" y="0" transform="translate(316.63,11.4) scale(1.18,1)" font-size="4.2" text-anchor="middle" fill="#333" stroke="#333" stroke-width="0.2" font-weight="normal" >8</text>
<text x="0" y="0" transform="translate(319.88,11.4) scale(1.18,1)" font-size="4.2" text-anchor="middle" fill="#333" stroke="#333" stroke-width="0.2" font-weight="normal" >8</text>
<text x="0" y="0" transform="translate(323.12,11.4) scale(1.18,1)" font-size="4.2" text-anchor="middle" fill="#333" stroke="#333" stroke-width="0.2" font-weight="normal" >8</text>
<text x="0" y="0" transform="translate(326.37,11.4) scale(1.18,1)" font-size="4.2" text-anchor="middle" fill="#333" stroke="#333" stroke-width="0.2" font-weight="normal" >8</text>
<text x="0" y="0" transform="translate(329.61,11.4) scale(1.18,1)" font-size="4.2" text-anchor="middle" fill="#333" stroke="#333" stroke-width="0.2" font-weight="normal" >8</text>
<text x="0" y="0" transform="translate(332.85,11.4) scale(1.18,1)" font-size="4.2" text-anchor="middle" fill="#333" stroke="#333" stroke-width="0.2" font-weight="normal" >7</text>
<text x="0" y="0" transform="translate(336.1,11.4) scale(1.18,1)" font-size="4.2" text-anchor="middle" fill="#333" stroke="#333" stroke-width="0.2" font-weight="normal" >7</text>
<text x="0" y="0" transform="translate(339.34,11.4) scale(1.18,1)" font-size="4.2" text-anchor="middle" fill="#333" stroke="#333" stroke-width="0.2" font-weight="normal" >7</text>
<text x="0" y="0" transform="translate(342.59,11.4) scale(1.18,1)" font-size="4.2" text-anchor="middle" fill="#333" stroke="#333" stroke-width="0.2" font-weight="normal" >6</text>
<text x="0" y="0" transform="translate(345.83,11.4) scale(1.18,1)" font-size="4.2" text-anchor="middle" fill="#333" stroke="#333" stroke-width="0.2" font-weight="normal" >6</text>
<text x="0" y="0" transform="translate(349.07,11.4) scale(1.18,1)" font-size="4.2" text-anchor="middle" fill="#333" stroke="#333" stroke-width="0.2" font-weight="normal" >6</text>
<text x="0" y="0" transform="translate(352.32,11.4) scale(1.18,1)" font-size="4.2" text-anchor="middle" fill="#333" stroke="#333" stroke-width="0.2" font-weight="normal" >6</text>
<text x="0" y="0" transform="translate(355.56,11.4) scale(1.18,1)" font-size="4.2" text-anchor="middle" fill="#333" stroke="#333" stroke-width="0.2" font-weight="normal" >6</text>
<text x="0" y="0" transform="translate(358.81,11.4) scale(1.18,1)" font-size="4.2" text-anchor="middle" fill="#333" stroke="#333" stroke-width="0.2" font-weight="normal" >6</text>
<text x="0" y="0" transform="translate(362.05,11.4) scale(1.18,1)" font-size="4.2" text-anchor="middle" fill="#333" stroke="#333" stroke-width="0.2" font-weight="normal" >6</text>
<text x="0" y="0" transform="translate(365.3,11.4) scale(1.18,1)" font-size="4.2" text-anchor="middle" fill="#333" stroke="#333" stroke-width="0.2" font-weight="normal" >5</text>
<text x="0" y="0" transform="translate(368.54,11.4) scale(1.18,1)" font-size="4.2" text-anchor="middle" fill="#333" stroke="#333" stroke-width="0.2" font-weight="normal" >5</text>
<text x="0" y="0" transform="translate(371.78,11.4) scale(1.18,1)" font-size="4.2" text-anchor="middle" fill="#333" stroke="#333" stroke-width="0.2" font-weight="normal" >5</text>
<text x="0" y="0" transform="translate(375.03,11.4) scale(1.18,1)" font-size="4.2" text-anchor="middle" fill="#333" stroke="#333" stroke-width="0.2" font-weight="normal" >5</text>
<text x="0" y="0" transform="translate(378.27,11.4) scale(1.18,1)" font-size="4.2" text-anchor="middle" fill="#333" stroke="#333" stroke-width="0.2" font-weight="normal" >5</text>
<text x="0" y="0" transform="translate(381.52,11.4) scale(1.18,1)" font-size="4.2" text-anchor="middle" fill="#333" stroke="#333" stroke-width="0.2" font-weight="normal" >5</text>
<text x="0" y="0" transform="translate(384.76,11.4) scale(1.18,1)" font-size="4.2" text-anchor="middle" fill="#333" stroke="#333" stroke-width="0.2" font-weight="normal" >5</text>
<text x="0" y="0" transform="translate(388,11.4) scale(1.18,1)" font-size="4.2" text-anchor="middle" fill="#333" stroke="#333" stroke-width="0.2" font-weight="normal" >5</text>
<text x="0" y="0" transform="translate(391.25,11.4) scale(1.18,1)" font-size="4.2" text-anchor="middle" fill="#333" stroke="#333" stroke-width="0.2" font-weight="normal" >5</text>
<text x="0" y="0" transform="translate(394.49,11.4) scale(1.18,1)" font-size="4.2" text-anchor="middle" fill="#333" stroke="#333" stroke-width="0.2" font-weight="normal" >4</text>
<text x="0" y="0" transform="translate(397.74,11.4) scale(1.18,1)" font-size="4.2" text-anchor="middle" fill="#333" stroke="#333" stroke-width="0.2" font-weight="normal" >4</text>
<text x="0" y="0" transform="translate(400.98,11.4) scale(1.18,1)" font-size="4.2" text-anchor="middle" fill="#333" stroke="#333" stroke-width="0.2" font-weight="normal" >4</text>
<text x="0" y="0" transform="translate(404.23,11.4) scale(1.18,1)" font-size="4.2" text-anchor="middle" fill="#333" stroke="#333" stroke-width="0.2" font-weight="normal" >4</text>
<text x="0" y="0" transform="translate(407.47,11.4) scale(1.18,1)" font-size="4.2" text-anchor="middle" fill="#333" stroke="#333" stroke-width="0.2" font-weight="normal" >4</text>
<text x="0" y="0" transform="translate(410.71,11.4) scale(1.18,1)" font-size="4.2" text-anchor="middle" fill="#333" stroke="#333" stroke-width="0.2" font-weight="normal" >4</text>
<text x="0" y="0" transform="translate(413.96,11.4) scale(1.18,1)" font-size="4.2" text-anchor="middle" fill="#333" stroke="#333" stroke-width="0.2" font-weight="normal" >4</text>
<text x="0" y="0" transform="translate(417.2,11.4) scale(1.18,1)" font-size="4.2" text-anchor="middle" fill="#333" stroke="#333" stroke-width="0.2" font-weight="normal" >4</text>
<text x="0" y="0" transform="translate(420.45,11.4) scale(1.18,1)" font-size="4.2" text-anchor="middle" fill="#333" stroke="#333" stroke-width="0.2" font-weight="normal" >3</text>
<text x="0" y="0" transform="translate(423.69,11.4) scale(1.18,1)" font-size="4.2" text-anchor="middle" fill="#333" stroke="#333" stroke-width="0.2" font-weight="normal" >2</text>
<text x="0" y="0" transform="translate(426.93,11.4) scale(1.18,1)" font-size="4.2" text-anchor="middle" fill="#333" stroke="#333" stroke-width="0.2" font-weight="normal" >2</text>
<text x="0" y="0" transform="translate(430.18,11.4) scale(1.18,1)" font-size="4.2" text-anchor="middle" fill="#333" stroke="#333" stroke-width="0.2" font-weight="normal" >2</text>
<text x="0" y="0" transform="translate(433.42,11.4) scale(1.18,1)" font-size="4.2" text-anchor="middle" fill="#333" stroke="#333" stroke-width="0.2" font-weight="normal" >2</text>
<text x="0" y="0" transform="translate(436.67,11.4) scale(1.18,1)" font-size="4.2" text-anchor="middle" fill="#333" stroke="#333" stroke-width="0.2" font-weight="normal" >2</text>
<text x="0" y="0" transform="translate(439.91,11.4) scale(1.18,1)" font-size="4.2" text-anchor="middle" fill="#333" stroke="#333" stroke-width="0.2" font-weight="normal" >2</text>
<text x="0" y="0" transform="translate(443.16,11.4) scale(1.18,1)" font-size="4.2" text-anchor="middle" fill="#333" stroke="#333" stroke-width="0.2" font-weight="normal" >2</text>
<text x="0" y="0" transform="translate(446.4,11.4) scale(1.18,1)" font-size="4.2" text-anchor="middle" fill="#333" stroke="#333" stroke-width="0.2" font-weight="normal" >0</text>
<rect x="491.2" y="14.3" width="192.3" height="126" fill="none" stroke="#333" stroke-width="1.05"/>
<line x1="488.4" y1="123.18" x2="491.2" y2="123.18" stroke="#333" stroke-width="0.8" />
<text x="0" y="0" transform="translate(487.4,124.98) scale(1.2,1.1)" font-size="4.6" text-anchor="end" fill="#333" stroke="#333" stroke-width="0.1" font-weight="normal" >-0.4</text>
<line x1="488.4" y1="103.94" x2="491.2" y2="103.94" stroke="#333" stroke-width="0.8" />
<text x="0" y="0" transform="translate(487.4,105.74) scale(1.2,1.1)" font-size="4.6" text-anchor="end" fill="#333" stroke="#333" stroke-width="0.1" font-weight="normal" >-0.2</text>
<line x1="488.4" y1="84.7" x2="491.2" y2="84.7" stroke="#333" stroke-width="0.8" />
<text x="0" y="0" transform="translate(487.4,86.5) scale(1.2,1.1)" font-size="4.6" text-anchor="end" fill="#333" stroke="#333" stroke-width="0.1" font-weight="normal" >0.0</text>
<line x1="488.4" y1="65.46" x2="491.2" y2="65.46" stroke="#333" stroke-width="0.8" />
<text x="0" y="0" transform="translate(487.4,67.26) scale(1.2,1.1)" font-size="4.6" text-anchor="end" fill="#333" stroke="#333" stroke-width="0.1" font-weight="normal" >0.2</text>
<line x1="488.4" y1="46.22" x2="491.2" y2="46.22" stroke="#333" stroke-width="0.8" />
<text x="0" y="0" transform="translate(487.4,48.02) scale(1.2,1.1)" font-size="4.6" text-anchor="end" fill="#333" stroke="#333" stroke-width="0.1" font-weight="normal" >0.4</text>
<line x1="488.4" y1="26.98" x2="491.2" y2="26.98" stroke="#333" stroke-width="0.8" />
<text x="0" y="0" transform="translate(487.4,28.78) scale(1.2,1.1)" font-size="4.6" text-anchor="end" fill="#333" stroke="#333" stroke-width="0.1" font-weight="normal" >0.6</text>
<line x1="499.4" y1="140.3" x2="499.4" y2="142.7" stroke="#333" stroke-width="0.8" />
<text x="0" y="0" transform="translate(499.4,147.2) scale(1.2,1.1)" font-size="4.6" text-anchor="middle" fill="#333" stroke="#333" stroke-width="0.1" font-weight="normal" >-8</text>
<line x1="529.02" y1="140.3" x2="529.02" y2="142.7" stroke="#333" stroke-width="0.8" />
<text x="0" y="0" transform="translate(529.02,147.2) scale(1.2,1.1)" font-size="4.6" text-anchor="middle" fill="#333" stroke="#333" stroke-width="0.1" font-weight="normal" >-7</text>
<line x1="558.64" y1="140.3" x2="558.64" y2="142.7" stroke="#333" stroke-width="0.8" />
<text x="0" y="0" transform="translate(558.64,147.2) scale(1.2,1.1)" font-size="4.6" text-anchor="middle" fill="#333" stroke="#333" stroke-width="0.1" font-weight="normal" >-6</text>
<line x1="588.26" y1="140.3" x2="588.26" y2="142.7" stroke="#333" stroke-width="0.8" />
<text x="0" y="0" transform="translate(588.26,147.2) scale(1.2,1.1)" font-size="4.6" text-anchor="middle" fill="#333" stroke="#333" stroke-width="0.1" font-weight="normal" >-5</text>
<line x1="617.88" y1="140.3" x2="617.88" y2="142.7" stroke="#333" stroke-width="0.8" />
<text x="0" y="0" transform="translate(617.88,147.2) scale(1.2,1.1)" font-size="4.6" text-anchor="middle" fill="#333" stroke="#333" stroke-width="0.1" font-weight="normal" >-4</text>
<line x1="647.5" y1="140.3" x2="647.5" y2="142.7" stroke="#333" stroke-width="0.8" />
<text x="0" y="0" transform="translate(647.5,147.2) scale(1.2,1.1)" font-size="4.6" text-anchor="middle" fill="#333" stroke="#333" stroke-width="0.1" font-weight="normal" >-3</text>
<line x1="677.12" y1="140.3" x2="677.12" y2="142.7" stroke="#333" stroke-width="0.8" />
<text x="0" y="0" transform="translate(677.12,147.2) scale(1.2,1.1)" font-size="4.6" text-anchor="middle" fill="#333" stroke="#333" stroke-width="0.1" font-weight="normal" >-2</text>
<text x="0" y="0" transform="translate(499.4,11.6) scale(1.2,1.1)" font-size="4.4" text-anchor="middle" fill="#333" stroke="#333" stroke-width="0.1" font-weight="normal" >11</text>
<text x="0" y="0" transform="translate(529.02,11.6) scale(1.2,1.1)" font-size="4.4" text-anchor="middle" fill="#333" stroke="#333" stroke-width="0.1" font-weight="normal" >11</text>
<text x="0" y="0" transform="translate(558.64,11.6) scale(1.2,1.1)" font-size="4.4" text-anchor="middle" fill="#333" stroke="#333" stroke-width="0.1" font-weight="normal" >9</text>
<text x="0" y="0" transform="translate(588.26,11.6) scale(1.2,1.1)" font-size="4.4" text-anchor="middle" fill="#333" stroke="#333" stroke-width="0.1" font-weight="normal" >6</text>
<text x="0" y="0" transform="translate(617.88,11.6) scale(1.2,1.1)" font-size="4.4" text-anchor="middle" fill="#333" stroke="#333" stroke-width="0.1" font-weight="normal" >5</text>
<text x="0" y="0" transform="translate(647.5,11.6) scale(1.2,1.1)" font-size="4.4" text-anchor="middle" fill="#333" stroke="#333" stroke-width="0.1" font-weight="normal" >4</text>
<text x="0" y="0" transform="translate(677.12,11.6) scale(1.2,1.1)" font-size="4.4" text-anchor="middle" fill="#333" stroke="#333" stroke-width="0.1" font-weight="normal" >0</text>
<text x="0" y="0" transform="translate(587.1,154.4) scale(1.15,1)" font-size="5.5" text-anchor="middle" fill="#333" stroke="#333" stroke-width="0.2" font-weight="normal" >Log(λ)</text>
<text x="0" y="0" transform="translate(474,77.1) rotate(-90) scale(0.95,1.1)" font-size="5.2" text-anchor="middle" fill="#333" stroke="#333" stroke-width="0.08" font-weight="normal" >Coefficients</text>
<path d="M524.5,76.2 C530.42,76.23 549.92,76.33 560,76.4 C570.08,76.47 576,76.32 585,76.6 C594,76.88 607.33,77.53 614,78.1 C620.67,78.67 621.17,79.42 625,80 C628.83,80.58 632.23,80.85 637,81.6 C641.77,82.35 650.83,84.02 653.6,84.5" fill="none" stroke="#e6a3dc" stroke-width="0.85" stroke-linecap="round" />
<path d="M524.5,81.3 C527.92,81.55 538.25,82.32 545,82.8 C551.75,83.28 560,83.88 565,84.2 C570,84.52 573.33,84.62 575,84.7" fill="none" stroke="#5ccfcf" stroke-width="0.85" stroke-linecap="round" />
<path d="M524.5,81 C528.75,81.25 541.58,82 550,82.5 C558.42,83 568.33,83.63 575,84 C581.67,84.37 587.5,84.58 590,84.7" fill="none" stroke="#e8dca8" stroke-width="0.85" stroke-linecap="round" />
<path d="M524.5,87.2 C527.08,87.03 535.53,86.57 540,86.2 C544.47,85.83 548.3,85.25 551.3,85 C554.3,84.75 556.88,84.75 558,84.7" fill="none" stroke="#a52ee6" stroke-width="0.85" stroke-linecap="round" />
<path d="M524.5,92 C527.27,91.57 535.85,90.4 541.1,89.4 C546.35,88.4 552.35,86.77 556,86 C559.65,85.23 561.83,85 563,84.8" fill="none" stroke="#5a5a5a" stroke-width="0.85" stroke-linecap="round" />
<path d="M524.5,76.6 C528.75,77 542.42,78.18 550,79 C557.58,79.82 564.17,80.67 570,81.5 C575.83,82.33 581.67,83.47 585,84 C588.33,84.53 589.17,84.58 590,84.7" fill="none" stroke="#d83cb4" stroke-width="0.85" stroke-linecap="round" />
<path d="M524.5,66.4 C530.42,66.47 550.18,66.57 560,66.8 C569.82,67.03 576.73,67.27 583.4,67.8 C590.07,68.33 594.87,69.22 600,70 C605.13,70.78 609.4,71.35 614.2,72.5 C619,73.65 624.5,75.57 628.8,76.9 C633.1,78.23 636.6,79.23 640,80.5 C643.4,81.77 647.67,83.83 649.2,84.5" fill="none" stroke="#6c6cd8" stroke-width="0.85" stroke-linecap="round" />
<path d="M524.5,102.2 C528.48,101.88 540.77,101.22 548.4,100.3 C556.03,99.38 564.2,97.92 570.3,96.7 C576.4,95.48 581.72,93.98 585,93 C588.28,92.02 587.33,92.03 590,90.8 C592.67,89.57 598.83,86.6 601,85.6 C603.17,84.6 602.67,84.93 603,84.8" fill="none" stroke="#66dd4c" stroke-width="0.85" stroke-linecap="round" />
<path d="M524.8,135.5 C527.97,135.18 536.98,134.68 543.8,133.6 C550.62,132.52 558.4,131.1 565.7,129 C573,126.9 581.88,123.32 587.6,121 C593.32,118.68 595.57,117.93 600,115.1 C604.43,112.27 610.37,107.55 614.2,104 C618.03,100.45 620.57,97 623,93.8 C625.43,90.6 627.83,86.3 628.8,84.8" fill="none" stroke="#dccb55" stroke-width="0.85" stroke-linecap="round" />
<polyline points="590,84.6 676.7,84.6" fill="none" stroke="#e47ed6" stroke-width="0.85" stroke-linejoin="round" stroke-linecap="round" />
<path d="M524.5,18.6 C528.48,19.2 540.77,20.87 548.4,22.2 C556.03,23.53 564.2,25.38 570.3,26.6 C576.4,27.82 580.12,28.28 585,29.5 C589.88,30.72 594.73,31.95 599.6,33.9 C604.47,35.85 609.58,38.4 614.2,41.2 C618.82,44 624.13,48.7 627.3,50.7 C630.47,52.7 630.52,52.35 633.2,53.2 C635.88,54.05 640.48,54.77 643.4,55.8 C646.32,56.83 647.53,57.1 650.7,59.4 C653.87,61.7 658.75,65.95 662.4,69.6 C666.05,73.25 670.25,78.8 672.6,81.3 C674.95,83.8 675.85,84.05 676.5,84.6" fill="none" stroke="#44cf8f" stroke-width="0.85" stroke-linecap="round" />
<path d="M524.5,21.5 C528.48,21.98 540.77,23.35 548.4,24.4 C556.03,25.45 564.2,26.83 570.3,27.8 C576.4,28.77 580.12,29.07 585,30.2 C589.88,31.33 594.73,32.82 599.6,34.6 C604.47,36.38 609.45,38.33 614.2,40.9 C618.95,43.47 624.93,48.25 628.1,50 C631.27,51.75 629.92,50.57 633.2,51.4 C636.48,52.23 643.67,53.43 647.8,55 C651.93,56.57 654.6,58.12 658,60.8 C661.4,63.48 665.17,67.32 668.2,71.1 C671.23,74.88 674.77,81.25 676.2,83.5 C677.63,85.75 676.7,84.42 676.8,84.6" fill="none" stroke="#e2673f" stroke-width="0.85" stroke-linecap="round" />
<text x="0" y="0" transform="translate(520,18.4) scale(1.08,1)" font-size="4.4" text-anchor="end" fill="#44cf8f" font-weight="normal" >YTHDF1</text>
<text x="0" y="0" transform="translate(520,24.1) scale(1.08,1)" font-size="4.4" text-anchor="end" fill="#e2673f" font-weight="normal" >YTHDF2</text>
<text x="0" y="0" transform="translate(520.7,67.3) scale(1.08,1)" font-size="4.4" text-anchor="end" fill="#6c6cd8" font-weight="normal" >VIRMA</text>
<text x="0" y="0" transform="translate(520.7,76) scale(1.08,1)" font-size="4.4" text-anchor="end" fill="#e6a3dc" font-weight="normal" >IGF2BP3</text>
<text x="0" y="0" transform="translate(520.2,136.8) scale(1.08,1)" font-size="4.4" text-anchor="end" fill="#dccb55" font-weight="normal" >YTHDC1</text>
<line x1="41.07" y1="227.6" x2="41.07" y2="232.4" stroke="#333" stroke-width="0.6" />
<line x1="41.07" y1="237.5" x2="41.07" y2="243.5" stroke="#333" stroke-width="0.6" />
<rect x="34.85" y="232.4" width="12.45" height="5.1" fill="#00468b" stroke="#111" stroke-width="0.6"/>
<line x1="34.85" y1="235.1" x2="47.3" y2="235.1" stroke="#000" stroke-width="1.35" />
<circle cx="41.07" cy="245.5" r="0.6" fill="#444"/>
<line x1="53.52" y1="214.5" x2="53.52" y2="227.1" stroke="#333" stroke-width="0.6" />
<line x1="53.52" y1="234.8" x2="53.52" y2="241.5" stroke="#333" stroke-width="0.6" />
<rect x="47.3" y="227.1" width="12.45" height="7.7" fill="#ed0000" stroke="#111" stroke-width="0.6"/>
<line x1="47.3" y1="230" x2="59.75" y2="230" stroke="#000" stroke-width="1.35" />
<line x1="72.17" y1="197.6" x2="72.17" y2="201" stroke="#333" stroke-width="0.6" />
<line x1="72.17" y1="204.2" x2="72.17" y2="207.8" stroke="#333" stroke-width="0.6" />
<rect x="65.95" y="201" width="12.45" height="3.2" fill="#00468b" stroke="#111" stroke-width="0.6"/>
<line x1="65.95" y1="202.4" x2="78.4" y2="202.4" stroke="#000" stroke-width="1.35" />
<circle cx="72.17" cy="194.4" r="0.6" fill="#444"/>
<line x1="84.62" y1="188.1" x2="84.62" y2="197.2" stroke="#333" stroke-width="0.6" />
<line x1="84.62" y1="204.5" x2="84.62" y2="207.1" stroke="#333" stroke-width="0.6" />
<rect x="78.4" y="197.2" width="12.45" height="7.3" fill="#ed0000" stroke="#111" stroke-width="0.6"/>
<line x1="78.4" y1="199.8" x2="90.85" y2="199.8" stroke="#000" stroke-width="1.35" />
<line x1="103.17" y1="196" x2="103.17" y2="203.1" stroke="#333" stroke-width="0.6" />
<line x1="103.17" y1="208.2" x2="103.17" y2="213.1" stroke="#333" stroke-width="0.6" />
<rect x="96.95" y="203.1" width="12.45" height="5.1" fill="#00468b" stroke="#111" stroke-width="0.6"/>
<line x1="96.95" y1="205.6" x2="109.4" y2="205.6" stroke="#000" stroke-width="1.35" />
<circle cx="103.17" cy="193.2" r="0.6" fill="#444"/>
<line x1="115.62" y1="192.8" x2="115.62" y2="199.2" stroke="#333" stroke-width="0.6" />
<line x1="115.62" y1="205.4" x2="115.62" y2="212.7" stroke="#333" stroke-width="0.6" />
<rect x="109.4" y="199.2" width="12.45" height="6.2" fill="#ed0000" stroke="#111" stroke-width="0.6"/>
<line x1="109.4" y1="202" x2="121.85" y2="202" stroke="#000" stroke-width="1.35" />
<circle cx="115.62" cy="189.2" r="0.6" fill="#444"/>
<line x1="134.28" y1="246.9" x2="134.28" y2="253.3" stroke="#333" stroke-width="0.6" />
<line x1="134.28" y1="261.3" x2="134.28" y2="271.9" stroke="#333" stroke-width="0.6" />
<rect x="128.05" y="253.3" width="12.45" height="8" fill="#00468b" stroke="#111" stroke-width="0.6"/>
<line x1="128.05" y1="256.8" x2="140.5" y2="256.8" stroke="#000" stroke-width="1.35" />
<circle cx="134.28" cy="274" r="0.6" fill="#444"/>
<line x1="146.72" y1="249.1" x2="146.72" y2="257.3" stroke="#333" stroke-width="0.6" />
<line x1="146.72" y1="265.2" x2="146.72" y2="273.4" stroke="#333" stroke-width="0.6" />
<rect x="140.5" y="257.3" width="12.45" height="7.9" fill="#ed0000" stroke="#111" stroke-width="0.6"/>
<line x1="140.5" y1="261.6" x2="152.95" y2="261.6" stroke="#000" stroke-width="1.35" />
<line x1="165.38" y1="273.2" x2="165.38" y2="277.2" stroke="#333" stroke-width="0.6" />
<line x1="165.38" y1="279.3" x2="165.38" y2="280.9" stroke="#333" stroke-width="0.6" />
<rect x="159.15" y="277.2" width="12.45" height="2.1" fill="#0a0f1a" stroke="#111" stroke-width="0.6"/>
<line x1="159.15" y1="278.2" x2="171.6" y2="278.2" stroke="#000" stroke-width="1.35" />
<line x1="177.82" y1="256" x2="177.82" y2="268.5" stroke="#333" stroke-width="0.6" />
<line x1="177.82" y1="277.6" x2="177.82" y2="280.9" stroke="#333" stroke-width="0.6" />
<rect x="171.6" y="268.5" width="12.45" height="9.1" fill="#ed0000" stroke="#111" stroke-width="0.6"/>
<line x1="171.6" y1="274.6" x2="184.05" y2="274.6" stroke="#000" stroke-width="1.35" />
<circle cx="177.82" cy="251.2" r="0.6" fill="#444"/>
<polyline points="41,214.5 41,212.3 53.6,212.3 53.6,214.5" fill="none" stroke="#222" stroke-width="0.7" stroke-linejoin="round" stroke-linecap="round" />
<text x="0" y="0" transform="translate(47.3,212.6)" font-size="5.5" text-anchor="middle" fill="#222" stroke="#222" stroke-width="0.15" font-weight="normal" >***</text>
<polyline points="72.1,182.7 72.1,180.5 84.7,180.5 84.7,182.7" fill="none" stroke="#222" stroke-width="0.7" stroke-linejoin="round" stroke-linecap="round" />
<text x="0" y="0" transform="translate(78.4,180.8)" font-size="5.5" text-anchor="middle" fill="#222" stroke="#222" stroke-width="0.15" font-weight="normal" >***</text>
<polyline points="103.1,188 103.1,185.8 115.7,185.8 115.7,188" fill="none" stroke="#222" stroke-width="0.7" stroke-linejoin="round" stroke-linecap="round" />
<text x="0" y="0" transform="translate(109.4,186.1)" font-size="5.5" text-anchor="middle" fill="#222" stroke="#222" stroke-width="0.15" font-weight="normal" >***</text>
<polyline points="134.2,241.1 134.2,238.9 146.8,238.9 146.8,241.1" fill="none" stroke="#222" stroke-width="0.7" stroke-linejoin="round" stroke-linecap="round" />
<text x="0" y="0" transform="translate(140.5,239.2)" font-size="5.5" text-anchor="middle" fill="#222" stroke="#222" stroke-width="0.15" font-weight="normal" >***</text>
<polyline points="165.3,251.3 165.3,249.1 177.9,249.1 177.9,251.3" fill="none" stroke="#222" stroke-width="0.7" stroke-linejoin="round" stroke-linecap="round" />
<text x="0" y="0" transform="translate(171.6,249.4)" font-size="5.5" text-anchor="middle" fill="#222" stroke="#222" stroke-width="0.15" font-weight="normal" >***</text>
<line x1="28.5" y1="173.2" x2="28.5" y2="284.2" stroke="#222" stroke-width="0.8" />
<line x1="28.5" y1="284.2" x2="190" y2="284.2" stroke="#222" stroke-width="0.8" />
<line x1="25.8" y1="186" x2="28.5" y2="186" stroke="#222" stroke-width="0.9" />
<text x="0" y="0" transform="translate(24.1,188.15)" font-size="6.2" text-anchor="end" fill="#333" stroke="#333" stroke-width="0.15" font-weight="normal" >12</text>
<line x1="25.8" y1="207.2" x2="28.5" y2="207.2" stroke="#222" stroke-width="0.9" />
<text x="0" y="0" transform="translate(24.1,209.35)" font-size="6.2" text-anchor="end" fill="#333" stroke="#333" stroke-width="0.15" font-weight="normal" >10</text>
<line x1="25.8" y1="228.4" x2="28.5" y2="228.4" stroke="#222" stroke-width="0.9" />
<text x="0" y="0" transform="translate(24.1,230.55)" font-size="6.2" text-anchor="end" fill="#333" stroke="#333" stroke-width="0.15" font-weight="normal" >8</text>
<line x1="25.8" y1="249.6" x2="28.5" y2="249.6" stroke="#222" stroke-width="0.9" />
<text x="0" y="0" transform="translate(24.1,251.75)" font-size="6.2" text-anchor="end" fill="#333" stroke="#333" stroke-width="0.15" font-weight="normal" >6</text>
<line x1="25.8" y1="270.8" x2="28.5" y2="270.8" stroke="#222" stroke-width="0.9" />
<text x="0" y="0" transform="translate(24.1,272.95)" font-size="6.2" text-anchor="end" fill="#333" stroke="#333" stroke-width="0.15" font-weight="normal" >4</text>
<line x1="47.3" y1="284.2" x2="47.3" y2="286.6" stroke="#222" stroke-width="0.9" />
<text x="0" y="0" transform="translate(50.2,293.3) rotate(-45) scale(0.95,1.1)" font-size="6.3" text-anchor="end" fill="#333" stroke="#333" stroke-width="0.15" font-weight="normal" >VIRMA</text>
<line x1="78.4" y1="284.2" x2="78.4" y2="286.6" stroke="#222" stroke-width="0.9" />
<text x="0" y="0" transform="translate(81.3,293.3) rotate(-45) scale(0.95,1.1)" font-size="6.3" text-anchor="end" fill="#333" stroke="#333" stroke-width="0.15" font-weight="normal" >YTHDF1</text>
<line x1="109.4" y1="284.2" x2="109.4" y2="286.6" stroke="#222" stroke-width="0.9" />
<text x="0" y="0" transform="translate(112.3,293.3) rotate(-45) scale(0.95,1.1)" font-size="6.3" text-anchor="end" fill="#333" stroke="#333" stroke-width="0.15" font-weight="normal" >YTHDF2</text>
<line x1="140.5" y1="284.2" x2="140.5" y2="286.6" stroke="#222" stroke-width="0.9" />
<text x="0" y="0" transform="translate(143.4,293.3) rotate(-45) scale(0.95,1.1)" font-size="6.3" text-anchor="end" fill="#333" stroke="#333" stroke-width="0.15" font-weight="normal" >YTHDC1</text>
<line x1="171.6" y1="284.2" x2="171.6" y2="286.6" stroke="#222" stroke-width="0.9" />
<text x="0" y="0" transform="translate(174.5,293.3) rotate(-45) scale(0.95,1.1)" font-size="6.3" text-anchor="end" fill="#333" stroke="#333" stroke-width="0.15" font-weight="normal" >IGF2BP3</text>
<text x="0" y="0" transform="translate(109.5,170.5)" font-size="6.9" text-anchor="middle" fill="#333" stroke="#333" stroke-width="0.12" font-weight="normal" >GSE55092</text>
<text x="0" y="0" transform="translate(12.9,229) rotate(-90)" font-size="7.2" text-anchor="middle" fill="#222" stroke="#222" stroke-width="0.2" font-weight="normal" >The expression level</text>
<line x1="196.8" y1="223" x2="196.8" y2="229.4" stroke="#333" stroke-width="0.5" />
<rect x="193.7" y="223.8" width="6.1" height="4.9" fill="#00468b" stroke="#111" stroke-width="0.6"/>
<line x1="193.7" y1="226.25" x2="199.8" y2="226.25" stroke="#000" stroke-width="0.8" />
<text x="0" y="0" transform="translate(203.3,228.8)" font-size="5.8" text-anchor="start" fill="#333" stroke="#333" stroke-width="0.15" font-weight="normal" >Normal</text>
<line x1="196.8" y1="231" x2="196.8" y2="237.4" stroke="#333" stroke-width="0.5" />
<rect x="193.7" y="231.8" width="6.1" height="4.9" fill="#ed0000" stroke="#111" stroke-width="0.6"/>
<line x1="193.7" y1="234.25" x2="199.8" y2="234.25" stroke="#000" stroke-width="0.8" />
<text x="0" y="0" transform="translate(203.3,236.8)" font-size="5.8" text-anchor="start" fill="#333" stroke="#333" stroke-width="0.15" font-weight="normal" >Tumor</text>
<line x1="271.38" y1="220.1" x2="271.38" y2="224.5" stroke="#333" stroke-width="0.6" />
<line x1="271.38" y1="229.2" x2="271.38" y2="236.2" stroke="#333" stroke-width="0.6" />
<rect x="265.15" y="224.5" width="12.45" height="4.7" fill="#00468b" stroke="#111" stroke-width="0.6"/>
<line x1="265.15" y1="226.7" x2="277.6" y2="226.7" stroke="#000" stroke-width="1.35" />
<circle cx="271.38" cy="241.3" r="0.6" fill="#444"/>
<line x1="283.83" y1="196.1" x2="283.83" y2="209.9" stroke="#333" stroke-width="0.6" />
<line x1="283.83" y1="220.7" x2="283.83" y2="232.8" stroke="#333" stroke-width="0.6" />
<rect x="277.6" y="209.9" width="12.45" height="10.8" fill="#ed0000" stroke="#111" stroke-width="0.6"/>
<line x1="277.6" y1="215" x2="290.05" y2="215" stroke="#000" stroke-width="1.35" />
<line x1="302.58" y1="192.4" x2="302.58" y2="200.2" stroke="#333" stroke-width="0.6" />
<line x1="302.58" y1="204.4" x2="302.58" y2="207.5" stroke="#333" stroke-width="0.6" />
<rect x="296.35" y="200.2" width="12.45" height="4.2" fill="#00468b" stroke="#111" stroke-width="0.6"/>
<line x1="296.35" y1="202.1" x2="308.8" y2="202.1" stroke="#000" stroke-width="1.35" />
<circle cx="302.58" cy="210.8" r="0.6" fill="#444"/>
<circle cx="302.58" cy="215.3" r="0.6" fill="#444"/>
<line x1="315.03" y1="183.6" x2="315.03" y2="193.8" stroke="#333" stroke-width="0.6" />
<line x1="315.03" y1="199.7" x2="315.03" y2="206.6" stroke="#333" stroke-width="0.6" />
<rect x="308.8" y="193.8" width="12.45" height="5.9" fill="#ed0000" stroke="#111" stroke-width="0.6"/>
<line x1="308.8" y1="196.8" x2="321.25" y2="196.8" stroke="#000" stroke-width="1.35" />
<circle cx="315.03" cy="217.9" r="0.6" fill="#444"/>
<line x1="333.68" y1="185.6" x2="333.68" y2="196.4" stroke="#333" stroke-width="0.6" />
<line x1="333.68" y1="200.9" x2="333.68" y2="207" stroke="#333" stroke-width="0.6" />
<rect x="327.45" y="196.4" width="12.45" height="4.5" fill="#00468b" stroke="#111" stroke-width="0.6"/>
<line x1="327.45" y1="198.2" x2="339.9" y2="198.2" stroke="#000" stroke-width="1.35" />
<circle cx="333.68" cy="210.7" r="0.6" fill="#444"/>
<line x1="346.12" y1="183.7" x2="346.12" y2="192.4" stroke="#333" stroke-width="0.6" />
<line x1="346.12" y1="198.7" x2="346.12" y2="209.2" stroke="#333" stroke-width="0.6" />
<rect x="339.9" y="192.4" width="12.45" height="6.3" fill="#ed0000" stroke="#111" stroke-width="0.6"/>
<line x1="339.9" y1="194.8" x2="352.35" y2="194.8" stroke="#000" stroke-width="1.35" />
<circle cx="346.12" cy="211.4" r="0.6" fill="#444"/>
<circle cx="346.12" cy="221.6" r="0.6" fill="#444"/>
<line x1="364.68" y1="240.4" x2="364.68" y2="250.5" stroke="#333" stroke-width="0.6" />
<line x1="364.68" y1="258.6" x2="364.68" y2="266.4" stroke="#333" stroke-width="0.6" />
<rect x="358.45" y="250.5" width="12.45" height="8.1" fill="#00468b" stroke="#111" stroke-width="0.6"/>
<line x1="358.45" y1="255.2" x2="370.9" y2="255.2" stroke="#000" stroke-width="1.35" />
<line x1="377.12" y1="243.2" x2="377.12" y2="252.4" stroke="#333" stroke-width="0.6" />
<line x1="377.12" y1="260" x2="377.12" y2="266.8" stroke="#333" stroke-width="0.6" />
<rect x="370.9" y="252.4" width="12.45" height="7.6" fill="#ed0000" stroke="#111" stroke-width="0.6"/>
<line x1="370.9" y1="256.4" x2="383.35" y2="256.4" stroke="#000" stroke-width="1.35" />
<circle cx="377.12" cy="236.9" r="0.6" fill="#444"/>
<circle cx="377.12" cy="241.8" r="0.6" fill="#444"/>
<line x1="395.78" y1="271.2" x2="395.78" y2="275.8" stroke="#333" stroke-width="0.6" />
<line x1="395.78" y1="278" x2="395.78" y2="280.7" stroke="#333" stroke-width="0.6" />
<rect x="389.55" y="275.8" width="12.45" height="2.2" fill="#0a0f1a" stroke="#111" stroke-width="0.6"/>
<line x1="389.55" y1="277" x2="402" y2="277" stroke="#000" stroke-width="1.35" />
<circle cx="395.78" cy="268.2" r="0.6" fill="#444"/>
<line x1="408.23" y1="249" x2="408.23" y2="266.7" stroke="#333" stroke-width="0.6" />
<line x1="408.23" y1="276.6" x2="408.23" y2="280.7" stroke="#333" stroke-width="0.6" />
<rect x="402" y="266.7" width="12.45" height="9.9" fill="#ed0000" stroke="#111" stroke-width="0.6"/>
<line x1="402" y1="275.1" x2="414.45" y2="275.1" stroke="#000" stroke-width="1.35" />
<circle cx="408.23" cy="238.1" r="0.6" fill="#444"/>
<circle cx="408.23" cy="246.4" r="0.6" fill="#444"/>
<circle cx="408.23" cy="247.4" r="0.6" fill="#444"/>
<polyline points="271.3,190.2 271.3,188 283.9,188 283.9,190.2" fill="none" stroke="#222" stroke-width="0.7" stroke-linejoin="round" stroke-linecap="round" />
<text x="0" y="0" transform="translate(277.6,188.3)" font-size="5.5" text-anchor="middle" fill="#222" stroke="#222" stroke-width="0.15" font-weight="normal" >***</text>
<polyline points="302.5,183.4 302.5,181.2 315.1,181.2 315.1,183.4" fill="none" stroke="#222" stroke-width="0.7" stroke-linejoin="round" stroke-linecap="round" />
<text x="0" y="0" transform="translate(308.8,181.5)" font-size="5.5" text-anchor="middle" fill="#222" stroke="#222" stroke-width="0.15" font-weight="normal" >***</text>
<polyline points="333.6,182.5 333.6,180.3 346.2,180.3 346.2,182.5" fill="none" stroke="#222" stroke-width="0.7" stroke-linejoin="round" stroke-linecap="round" />
<text x="0" y="0" transform="translate(339.9,180.6)" font-size="5.5" text-anchor="middle" fill="#222" stroke="#222" stroke-width="0.15" font-weight="normal" >***</text>
<polyline points="364.6,225.4 364.6,223.2 377.2,223.2 377.2,225.4" fill="none" stroke="#222" stroke-width="0.7" stroke-linejoin="round" stroke-linecap="round" />
<text x="0" y="0" transform="translate(370.9,223.5)" font-size="5.5" text-anchor="middle" fill="#222" stroke="#222" stroke-width="0.15" font-weight="normal" >**</text>
<polyline points="395.7,236.2 395.7,234 408.3,234 408.3,236.2" fill="none" stroke="#222" stroke-width="0.7" stroke-linejoin="round" stroke-linecap="round" />
<text x="0" y="0" transform="translate(402,234.3)" font-size="5.5" text-anchor="middle" fill="#222" stroke="#222" stroke-width="0.15" font-weight="normal" >***</text>
<line x1="259.3" y1="173.7" x2="259.3" y2="284.2" stroke="#222" stroke-width="0.8" />
<line x1="259.3" y1="284.2" x2="420.7" y2="284.2" stroke="#222" stroke-width="0.8" />
<line x1="256.6" y1="189.5" x2="259.3" y2="189.5" stroke="#222" stroke-width="0.9" />
<text x="0" y="0" transform="translate(254.9,191.65)" font-size="6.2" text-anchor="end" fill="#333" stroke="#333" stroke-width="0.15" font-weight="normal" >10</text>
<line x1="256.6" y1="216" x2="259.3" y2="216" stroke="#222" stroke-width="0.9" />
<text x="0" y="0" transform="translate(254.9,218.15)" font-size="6.2" text-anchor="end" fill="#333" stroke="#333" stroke-width="0.15" font-weight="normal" >8</text>
<line x1="256.6" y1="242.5" x2="259.3" y2="242.5" stroke="#222" stroke-width="0.9" />
<text x="0" y="0" transform="translate(254.9,244.65)" font-size="6.2" text-anchor="end" fill="#333" stroke="#333" stroke-width="0.15" font-weight="normal" >6</text>
<line x1="256.6" y1="269" x2="259.3" y2="269" stroke="#222" stroke-width="0.9" />
<text x="0" y="0" transform="translate(254.9,271.15)" font-size="6.2" text-anchor="end" fill="#333" stroke="#333" stroke-width="0.15" font-weight="normal" >4</text>
<line x1="277.6" y1="284.2" x2="277.6" y2="286.6" stroke="#222" stroke-width="0.9" />
<text x="0" y="0" transform="translate(280.5,293.3) rotate(-45) scale(0.95,1.1)" font-size="6.3" text-anchor="end" fill="#333" stroke="#333" stroke-width="0.15" font-weight="normal" >VIRMA</text>
<line x1="308.8" y1="284.2" x2="308.8" y2="286.6" stroke="#222" stroke-width="0.9" />
<text x="0" y="0" transform="translate(311.7,293.3) rotate(-45) scale(0.95,1.1)" font-size="6.3" text-anchor="end" fill="#333" stroke="#333" stroke-width="0.15" font-weight="normal" >YTHDF1</text>
<line x1="339.9" y1="284.2" x2="339.9" y2="286.6" stroke="#222" stroke-width="0.9" />
<text x="0" y="0" transform="translate(342.8,293.3) rotate(-45) scale(0.95,1.1)" font-size="6.3" text-anchor="end" fill="#333" stroke="#333" stroke-width="0.15" font-weight="normal" >YTHDF2</text>
<line x1="370.9" y1="284.2" x2="370.9" y2="286.6" stroke="#222" stroke-width="0.9" />
<text x="0" y="0" transform="translate(373.8,293.3) rotate(-45) scale(0.95,1.1)" font-size="6.3" text-anchor="end" fill="#333" stroke="#333" stroke-width="0.15" font-weight="normal" >YTHDC1</text>
<line x1="402" y1="284.2" x2="402" y2="286.6" stroke="#222" stroke-width="0.9" />
<text x="0" y="0" transform="translate(404.9,293.3) rotate(-45) scale(0.95,1.1)" font-size="6.3" text-anchor="end" fill="#333" stroke="#333" stroke-width="0.15" font-weight="normal" >IGF2BP3</text>
<text x="0" y="0" transform="translate(339.9,170.6)" font-size="6.9" text-anchor="middle" fill="#333" stroke="#333" stroke-width="0.12" font-weight="normal" >GSE102079</text>
<text x="0" y="0" transform="translate(242.6,229) rotate(-90)" font-size="7.2" text-anchor="middle" fill="#222" stroke="#222" stroke-width="0.2" font-weight="normal" >The expression level</text>
<line x1="427.2" y1="223" x2="427.2" y2="229.4" stroke="#333" stroke-width="0.5" />
<rect x="424.1" y="223.8" width="6.1" height="4.9" fill="#00468b" stroke="#111" stroke-width="0.6"/>
<line x1="424.1" y1="226.25" x2="430.2" y2="226.25" stroke="#000" stroke-width="0.8" />
<text x="0" y="0" transform="translate(433.7,228.8)" font-size="5.8" text-anchor="start" fill="#333" stroke="#333" stroke-width="0.15" font-weight="normal" >Normal</text>
<line x1="427.2" y1="231" x2="427.2" y2="237.4" stroke="#333" stroke-width="0.5" />
<rect x="424.1" y="231.8" width="6.1" height="4.9" fill="#ed0000" stroke="#111" stroke-width="0.6"/>
<line x1="424.1" y1="234.25" x2="430.2" y2="234.25" stroke="#000" stroke-width="0.8" />
<text x="0" y="0" transform="translate(433.7,236.8)" font-size="5.8" text-anchor="start" fill="#333" stroke="#333" stroke-width="0.15" font-weight="normal" >Tumor</text>
<line x1="498.88" y1="217.2" x2="498.88" y2="232.2" stroke="#333" stroke-width="0.6" />
<line x1="498.88" y1="245.2" x2="498.88" y2="261.8" stroke="#333" stroke-width="0.6" />
<rect x="492.65" y="232.2" width="12.45" height="13" fill="#00468b" stroke="#111" stroke-width="0.6"/>
<line x1="492.65" y1="237.3" x2="505.1" y2="237.3" stroke="#000" stroke-width="1.35" />
<circle cx="498.88" cy="264.7" r="0.6" fill="#444"/>
<circle cx="498.88" cy="270.5" r="0.6" fill="#444"/>
<circle cx="498.88" cy="272.7" r="0.6" fill="#444"/>
<line x1="511.33" y1="194.6" x2="511.33" y2="208.9" stroke="#333" stroke-width="0.6" />
<line x1="511.33" y1="227.4" x2="511.33" y2="253.8" stroke="#333" stroke-width="0.6" />
<rect x="505.1" y="208.9" width="12.45" height="18.5" fill="#ed0000" stroke="#111" stroke-width="0.6"/>
<line x1="505.1" y1="216.5" x2="517.55" y2="216.5" stroke="#000" stroke-width="1.35" />
<circle cx="511.33" cy="261" r="0.6" fill="#444"/>
<circle cx="511.33" cy="268.4" r="0.6" fill="#444"/>
<line x1="530.67" y1="212.1" x2="530.67" y2="224.5" stroke="#333" stroke-width="0.6" />
<line x1="530.67" y1="236.5" x2="530.67" y2="252.3" stroke="#333" stroke-width="0.6" />
<rect x="524.45" y="224.5" width="12.45" height="12" fill="#00468b" stroke="#111" stroke-width="0.6"/>
<line x1="524.45" y1="229.6" x2="536.9" y2="229.6" stroke="#000" stroke-width="1.35" />
<circle cx="530.67" cy="256.4" r="0.6" fill="#444"/>
<circle cx="530.67" cy="259.6" r="0.6" fill="#444"/>
<circle cx="530.67" cy="263.2" r="0.6" fill="#444"/>
<circle cx="530.67" cy="268.4" r="0.6" fill="#444"/>
<circle cx="530.67" cy="269.8" r="0.6" fill="#444"/>
<line x1="543.12" y1="191" x2="543.12" y2="208.5" stroke="#333" stroke-width="0.6" />
<line x1="543.12" y1="223.1" x2="543.12" y2="236.9" stroke="#333" stroke-width="0.6" />
<rect x="536.9" y="208.5" width="12.45" height="14.6" fill="#ed0000" stroke="#111" stroke-width="0.6"/>
<line x1="536.9" y1="215.8" x2="549.35" y2="215.8" stroke="#000" stroke-width="1.35" />
<circle cx="543.12" cy="251.6" r="0.6" fill="#444"/>
<circle cx="543.12" cy="253" r="0.6" fill="#444"/>
<circle cx="543.12" cy="255.2" r="0.6" fill="#444"/>
<circle cx="543.12" cy="258.9" r="0.6" fill="#444"/>
<line x1="562.27" y1="203.1" x2="562.27" y2="215" stroke="#333" stroke-width="0.6" />
<line x1="562.27" y1="228.4" x2="562.27" y2="242.7" stroke="#333" stroke-width="0.6" />
<rect x="556.05" y="215" width="12.45" height="13.4" fill="#00468b" stroke="#111" stroke-width="0.6"/>
<line x1="556.05" y1="221.6" x2="568.5" y2="221.6" stroke="#000" stroke-width="1.35" />
<circle cx="562.27" cy="250.1" r="0.6" fill="#444"/>
<circle cx="562.27" cy="261.8" r="0.6" fill="#444"/>
<circle cx="562.27" cy="262.5" r="0.6" fill="#444"/>
<circle cx="562.27" cy="264.7" r="0.6" fill="#444"/>
<circle cx="562.27" cy="274.2" r="0.6" fill="#444"/>
<line x1="574.73" y1="183.6" x2="574.73" y2="201.6" stroke="#333" stroke-width="0.6" />
<line x1="574.73" y1="214.7" x2="574.73" y2="231.8" stroke="#333" stroke-width="0.6" />
<rect x="568.5" y="201.6" width="12.45" height="13.1" fill="#ed0000" stroke="#111" stroke-width="0.6"/>
<line x1="568.5" y1="207.8" x2="580.95" y2="207.8" stroke="#000" stroke-width="1.35" />
<circle cx="574.73" cy="236.5" r="0.6" fill="#444"/>
<circle cx="574.73" cy="242.3" r="0.6" fill="#444"/>
<circle cx="574.73" cy="244.5" r="0.6" fill="#444"/>
<circle cx="574.73" cy="248.1" r="0.6" fill="#444"/>
<circle cx="574.73" cy="251.8" r="0.6" fill="#444"/>
<circle cx="574.73" cy="265.7" r="0.6" fill="#444"/>
<line x1="594.17" y1="211" x2="594.17" y2="222.3" stroke="#333" stroke-width="0.6" />
<line x1="594.17" y1="233.2" x2="594.17" y2="248.9" stroke="#333" stroke-width="0.6" />
<rect x="587.95" y="222.3" width="12.45" height="10.9" fill="#00468b" stroke="#111" stroke-width="0.6"/>
<line x1="587.95" y1="227.4" x2="600.4" y2="227.4" stroke="#000" stroke-width="1.35" />
<circle cx="594.17" cy="251.8" r="0.6" fill="#444"/>
<circle cx="594.17" cy="277.3" r="0.6" fill="#444"/>
<line x1="606.62" y1="206.7" x2="606.62" y2="216.6" stroke="#333" stroke-width="0.6" />
<line x1="606.62" y1="227.4" x2="606.62" y2="235.9" stroke="#333" stroke-width="0.6" />
<rect x="600.4" y="216.6" width="12.45" height="10.8" fill="#ed0000" stroke="#111" stroke-width="0.6"/>
<line x1="600.4" y1="222.3" x2="612.85" y2="222.3" stroke="#000" stroke-width="1.35" />
<circle cx="606.62" cy="248.1" r="0.6" fill="#444"/>
<circle cx="606.62" cy="251.8" r="0.6" fill="#444"/>
<line x1="625.88" y1="272" x2="625.88" y2="276.9" stroke="#333" stroke-width="0.6" />
<line x1="625.88" y1="279.4" x2="625.88" y2="280.6" stroke="#333" stroke-width="0.6" />
<rect x="619.65" y="276.9" width="12.45" height="2.5" fill="#0a0f1a" stroke="#111" stroke-width="0.6"/>
<line x1="619.65" y1="278.2" x2="632.1" y2="278.2" stroke="#000" stroke-width="1.35" />
<circle cx="625.88" cy="251.8" r="0.6" fill="#444"/>
<circle cx="625.88" cy="253.2" r="0.6" fill="#444"/>
<circle cx="625.88" cy="258.4" r="0.6" fill="#444"/>
<circle cx="625.88" cy="270.5" r="0.6" fill="#444"/>
<line x1="638.33" y1="189.9" x2="638.33" y2="225.5" stroke="#333" stroke-width="0.6" />
<line x1="638.33" y1="275" x2="638.33" y2="279.5" stroke="#333" stroke-width="0.6" />
<rect x="632.1" y="225.5" width="12.45" height="49.5" fill="#ed0000" stroke="#111" stroke-width="0.6"/>
<line x1="632.1" y1="267" x2="644.55" y2="267" stroke="#000" stroke-width="1.35" />
<polyline points="498.8,194.6 498.8,192.4 511.4,192.4 511.4,194.6" fill="none" stroke="#222" stroke-width="0.7" stroke-linejoin="round" stroke-linecap="round" />
<text x="0" y="0" transform="translate(505.1,192.7)" font-size="5.5" text-anchor="middle" fill="#222" stroke="#222" stroke-width="0.15" font-weight="normal" >***</text>
<polyline points="530.6,189.8 530.6,187.6 543.2,187.6 543.2,189.8" fill="none" stroke="#222" stroke-width="0.7" stroke-linejoin="round" stroke-linecap="round" />
<text x="0" y="0" transform="translate(536.9,187.9)" font-size="5.5" text-anchor="middle" fill="#222" stroke="#222" stroke-width="0.15" font-weight="normal" >***</text>
<polyline points="562.2,182.6 562.2,180.4 574.8,180.4 574.8,182.6" fill="none" stroke="#222" stroke-width="0.7" stroke-linejoin="round" stroke-linecap="round" />
<text x="0" y="0" transform="translate(568.5,180.7)" font-size="5.5" text-anchor="middle" fill="#222" stroke="#222" stroke-width="0.15" font-weight="normal" >***</text>
<polyline points="594.1,205.9 594.1,203.7 606.7,203.7 606.7,205.9" fill="none" stroke="#222" stroke-width="0.7" stroke-linejoin="round" stroke-linecap="round" />
<text x="0" y="0" transform="translate(600.4,204)" font-size="5.5" text-anchor="middle" fill="#222" stroke="#222" stroke-width="0.15" font-weight="normal" >***</text>
<polyline points="625.8,190.7 625.8,188.5 638.4,188.5 638.4,190.7" fill="none" stroke="#222" stroke-width="0.7" stroke-linejoin="round" stroke-linecap="round" />
<text x="0" y="0" transform="translate(632.1,188.8)" font-size="5.5" text-anchor="middle" fill="#222" stroke="#222" stroke-width="0.15" font-weight="normal" >***</text>
<line x1="486.2" y1="174" x2="486.2" y2="284.2" stroke="#222" stroke-width="0.8" />
<line x1="486.2" y1="284.2" x2="651" y2="284.2" stroke="#222" stroke-width="0.8" />
<line x1="483.5" y1="175.4" x2="486.2" y2="175.4" stroke="#222" stroke-width="0.9" />
<text x="0" y="0" transform="translate(481.8,177.55)" font-size="6.2" text-anchor="end" fill="#333" stroke="#333" stroke-width="0.15" font-weight="normal" >6</text>
<line x1="483.5" y1="193.1" x2="486.2" y2="193.1" stroke="#222" stroke-width="0.9" />
<text x="0" y="0" transform="translate(481.8,195.25)" font-size="6.2" text-anchor="end" fill="#333" stroke="#333" stroke-width="0.15" font-weight="normal" >5</text>
<line x1="483.5" y1="210.8" x2="486.2" y2="210.8" stroke="#222" stroke-width="0.9" />
<text x="0" y="0" transform="translate(481.8,212.95)" font-size="6.2" text-anchor="end" fill="#333" stroke="#333" stroke-width="0.15" font-weight="normal" >4</text>
<line x1="483.5" y1="228.4" x2="486.2" y2="228.4" stroke="#222" stroke-width="0.9" />
<text x="0" y="0" transform="translate(481.8,230.55)" font-size="6.2" text-anchor="end" fill="#333" stroke="#333" stroke-width="0.15" font-weight="normal" >3</text>
<line x1="483.5" y1="246.1" x2="486.2" y2="246.1" stroke="#222" stroke-width="0.9" />
<text x="0" y="0" transform="translate(481.8,248.25)" font-size="6.2" text-anchor="end" fill="#333" stroke="#333" stroke-width="0.15" font-weight="normal" >2</text>
<line x1="483.5" y1="263.8" x2="486.2" y2="263.8" stroke="#222" stroke-width="0.9" />
<text x="0" y="0" transform="translate(481.8,265.95)" font-size="6.2" text-anchor="end" fill="#333" stroke="#333" stroke-width="0.15" font-weight="normal" >1</text>
<line x1="483.5" y1="281.4" x2="486.2" y2="281.4" stroke="#222" stroke-width="0.9" />
<text x="0" y="0" transform="translate(481.8,283.55)" font-size="6.2" text-anchor="end" fill="#333" stroke="#333" stroke-width="0.15" font-weight="normal" >0</text>
<line x1="505.1" y1="284.2" x2="505.1" y2="286.6" stroke="#222" stroke-width="0.9" />
<text x="0" y="0" transform="translate(508,293.3) rotate(-45) scale(0.95,1.1)" font-size="6.3" text-anchor="end" fill="#333" stroke="#333" stroke-width="0.15" font-weight="normal" >VIRMA</text>
<line x1="536.9" y1="284.2" x2="536.9" y2="286.6" stroke="#222" stroke-width="0.9" />
<text x="0" y="0" transform="translate(539.8,293.3) rotate(-45) scale(0.95,1.1)" font-size="6.3" text-anchor="end" fill="#333" stroke="#333" stroke-width="0.15" font-weight="normal" >YTHDF1</text>
<line x1="568.5" y1="284.2" x2="568.5" y2="286.6" stroke="#222" stroke-width="0.9" />
<text x="0" y="0" transform="translate(571.4,293.3) rotate(-45) scale(0.95,1.1)" font-size="6.3" text-anchor="end" fill="#333" stroke="#333" stroke-width="0.15" font-weight="normal" >YTHDF2</text>
<line x1="600.4" y1="284.2" x2="600.4" y2="286.6" stroke="#222" stroke-width="0.9" />
<text x="0" y="0" transform="translate(603.3,293.3) rotate(-45) scale(0.95,1.1)" font-size="6.3" text-anchor="end" fill="#333" stroke="#333" stroke-width="0.15" font-weight="normal" >YTHDC1</text>
<line x1="632.1" y1="284.2" x2="632.1" y2="286.6" stroke="#222" stroke-width="0.9" />
<text x="0" y="0" transform="translate(635,293.3) rotate(-45) scale(0.95,1.1)" font-size="6.3" text-anchor="end" fill="#333" stroke="#333" stroke-width="0.15" font-weight="normal" >IGF2BP3</text>
<text x="0" y="0" transform="translate(568.5,170.6)" font-size="6.9" text-anchor="middle" fill="#333" stroke="#333" stroke-width="0.12" font-weight="normal" >GSE144269</text>
<text x="0" y="0" transform="translate(473.8,229) rotate(-90)" font-size="7.2" text-anchor="middle" fill="#222" stroke="#222" stroke-width="0.2" font-weight="normal" >The expression level</text>
<line x1="657.8" y1="223" x2="657.8" y2="229.4" stroke="#333" stroke-width="0.5" />
<rect x="654.7" y="223.8" width="6.1" height="4.9" fill="#00468b" stroke="#111" stroke-width="0.6"/>
<line x1="654.7" y1="226.25" x2="660.8" y2="226.25" stroke="#000" stroke-width="0.8" />
<text x="0" y="0" transform="translate(664.3,228.8)" font-size="5.8" text-anchor="start" fill="#333" stroke="#333" stroke-width="0.15" font-weight="normal" >Normal</text>
<line x1="657.8" y1="231" x2="657.8" y2="237.4" stroke="#333" stroke-width="0.5" />
<rect x="654.7" y="231.8" width="6.1" height="4.9" fill="#ed0000" stroke="#111" stroke-width="0.6"/>
<line x1="654.7" y1="234.25" x2="660.8" y2="234.25" stroke="#000" stroke-width="0.8" />
<text x="0" y="0" transform="translate(664.3,236.8)" font-size="5.8" text-anchor="start" fill="#333" stroke="#333" stroke-width="0.15" font-weight="normal" >Tumor</text>
</svg></body></html>
